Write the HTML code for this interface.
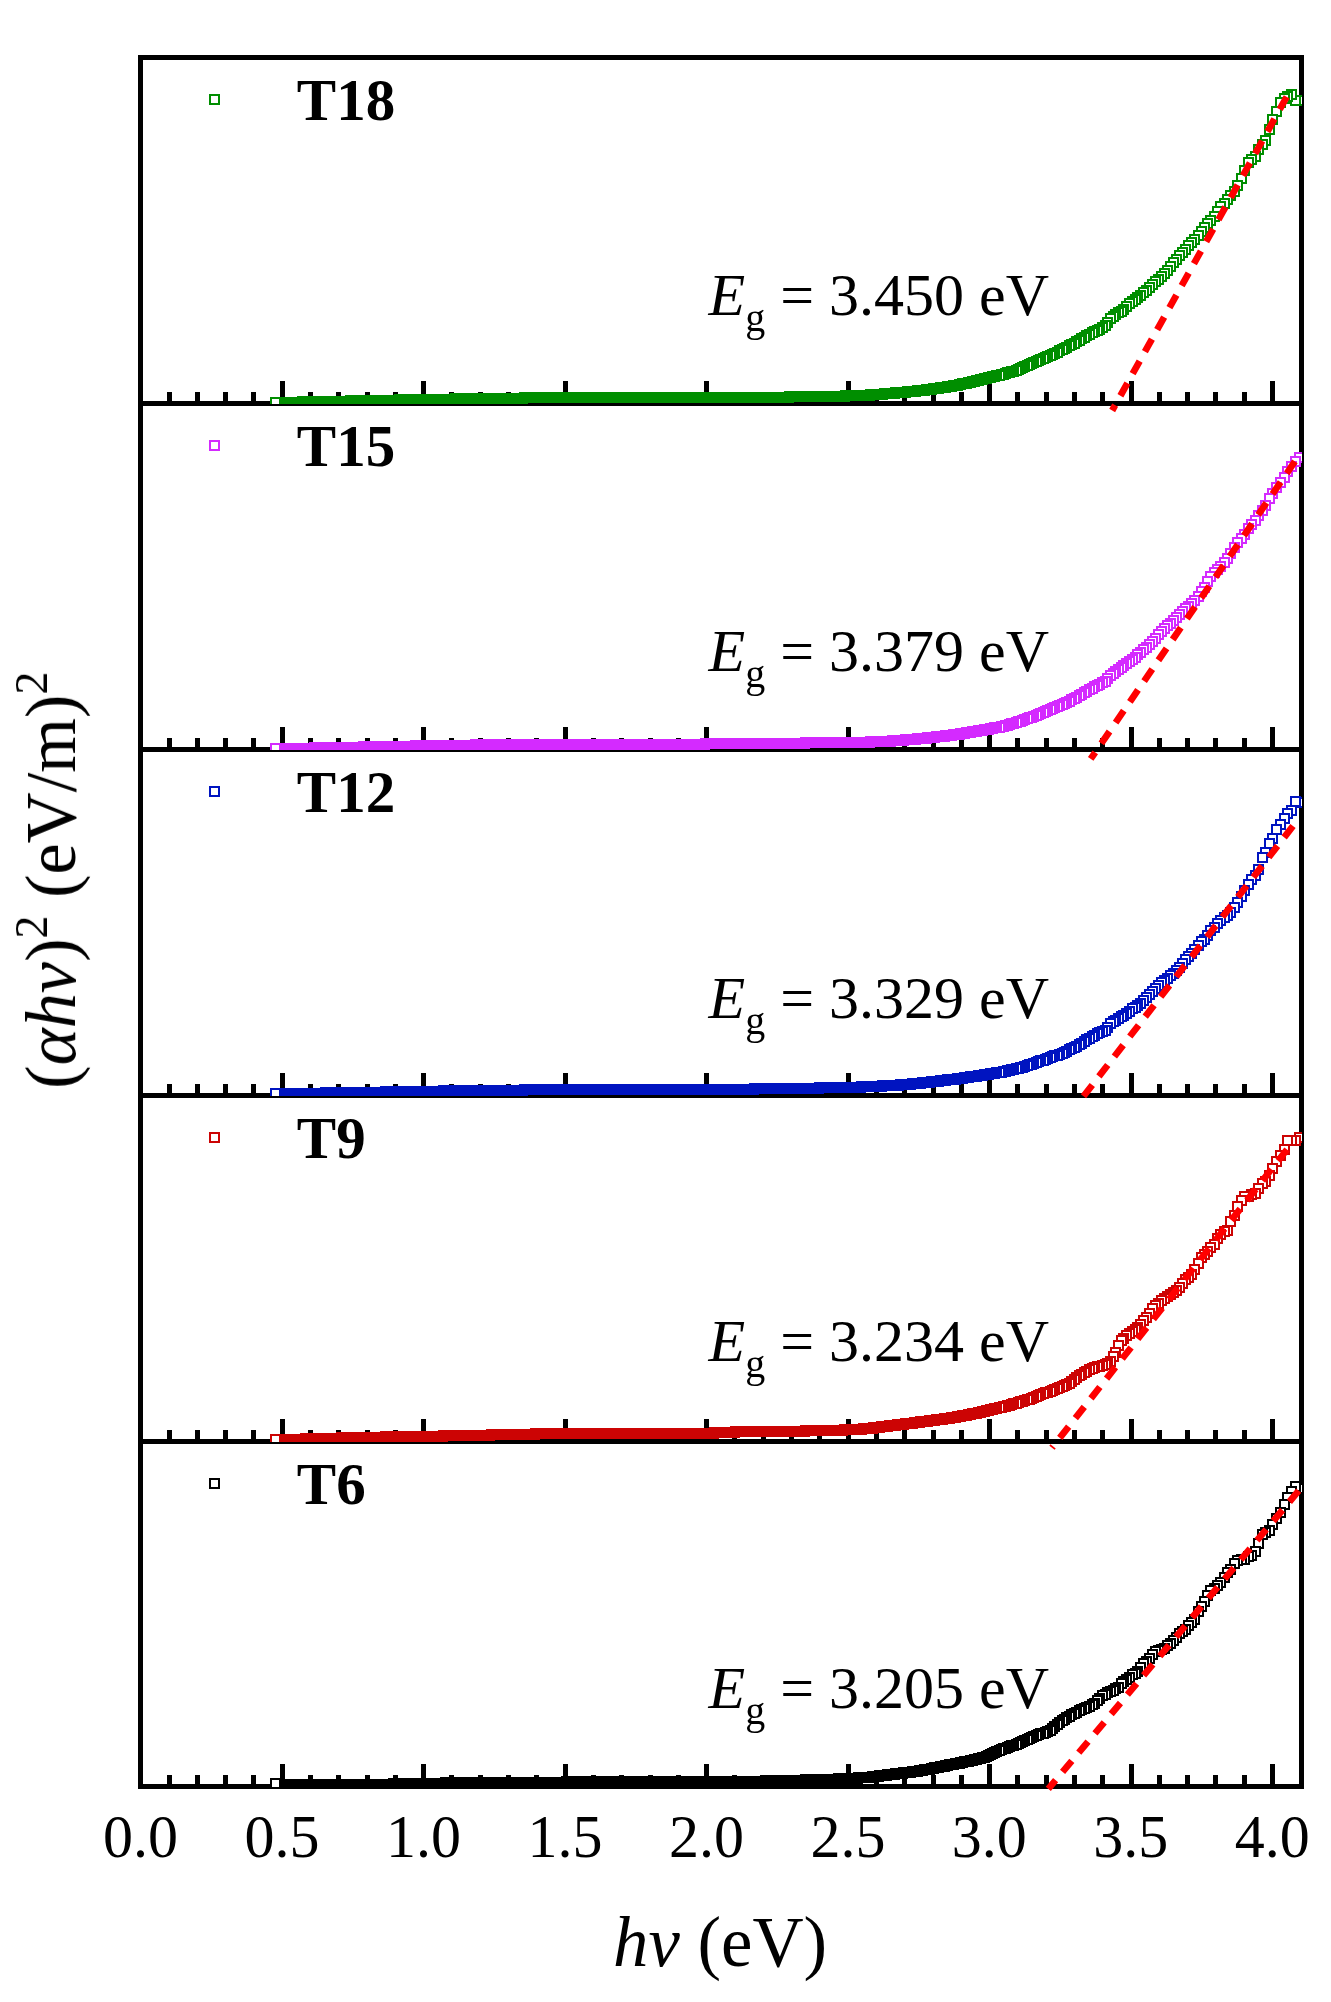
<!DOCTYPE html>
<html><head><meta charset="utf-8"><style>html,body{margin:0;padding:0;background:#fff;width:1331px;height:2002px;overflow:hidden}svg{display:block}text{font-family:"Liberation Serif",serif}</style></head><body>
<svg width="1331" height="2002" viewBox="0 0 1331 2002">
<style>rect.m,.g0 rect,.g1 rect,.g2 rect,.g3 rect,.g4 rect{fill:#fff;stroke-width:2px;width:9px;height:9px}.g0 rect{stroke:#008e00}.g1 rect{stroke:#d42aff}.g2 rect{stroke:#0014c0}.g3 rect{stroke:#cc0404}.g4 rect{stroke:#000000}</style>
<rect x="0" y="0" width="1331" height="2002" fill="#fff" style="stroke:none;width:1331px;height:2002px"/>
<path fill="#000" d="M138 55h1166v5h-1166zM138 55h5v1734h-5zM1299 55h5v1734h-5zM138 401h1166v5h-1166zM138 747h1166v5h-1166zM138 1093h1166v5h-1166zM138 1439h1166v5h-1166zM138 1784h1166v5h-1166zM167 392h5v9h-5zM195 392h5v9h-5zM223 392h5v9h-5zM251 392h5v9h-5zM280 381h5v20h-5zM308 392h5v9h-5zM336 392h5v9h-5zM365 392h5v9h-5zM393 392h5v9h-5zM421 381h5v20h-5zM449 392h5v9h-5zM478 392h5v9h-5zM506 392h5v9h-5zM534 392h5v9h-5zM563 381h5v20h-5zM591 392h5v9h-5zM619 392h5v9h-5zM648 392h5v9h-5zM676 392h5v9h-5zM704 381h5v20h-5zM732 392h5v9h-5zM761 392h5v9h-5zM789 392h5v9h-5zM817 392h5v9h-5zM846 381h5v20h-5zM874 392h5v9h-5zM902 392h5v9h-5zM931 392h5v9h-5zM959 392h5v9h-5zM987 381h5v20h-5zM1015 392h5v9h-5zM1044 392h5v9h-5zM1072 392h5v9h-5zM1100 392h5v9h-5zM1129 381h5v20h-5zM1157 392h5v9h-5zM1185 392h5v9h-5zM1213 392h5v9h-5zM1242 392h5v9h-5zM1270 381h5v20h-5zM167 738h5v9h-5zM195 738h5v9h-5zM223 738h5v9h-5zM251 738h5v9h-5zM280 727h5v20h-5zM308 738h5v9h-5zM336 738h5v9h-5zM365 738h5v9h-5zM393 738h5v9h-5zM421 727h5v20h-5zM449 738h5v9h-5zM478 738h5v9h-5zM506 738h5v9h-5zM534 738h5v9h-5zM563 727h5v20h-5zM591 738h5v9h-5zM619 738h5v9h-5zM648 738h5v9h-5zM676 738h5v9h-5zM704 727h5v20h-5zM732 738h5v9h-5zM761 738h5v9h-5zM789 738h5v9h-5zM817 738h5v9h-5zM846 727h5v20h-5zM874 738h5v9h-5zM902 738h5v9h-5zM931 738h5v9h-5zM959 738h5v9h-5zM987 727h5v20h-5zM1015 738h5v9h-5zM1044 738h5v9h-5zM1072 738h5v9h-5zM1100 738h5v9h-5zM1129 727h5v20h-5zM1157 738h5v9h-5zM1185 738h5v9h-5zM1213 738h5v9h-5zM1242 738h5v9h-5zM1270 727h5v20h-5zM167 1084h5v9h-5zM195 1084h5v9h-5zM223 1084h5v9h-5zM251 1084h5v9h-5zM280 1073h5v20h-5zM308 1084h5v9h-5zM336 1084h5v9h-5zM365 1084h5v9h-5zM393 1084h5v9h-5zM421 1073h5v20h-5zM449 1084h5v9h-5zM478 1084h5v9h-5zM506 1084h5v9h-5zM534 1084h5v9h-5zM563 1073h5v20h-5zM591 1084h5v9h-5zM619 1084h5v9h-5zM648 1084h5v9h-5zM676 1084h5v9h-5zM704 1073h5v20h-5zM732 1084h5v9h-5zM761 1084h5v9h-5zM789 1084h5v9h-5zM817 1084h5v9h-5zM846 1073h5v20h-5zM874 1084h5v9h-5zM902 1084h5v9h-5zM931 1084h5v9h-5zM959 1084h5v9h-5zM987 1073h5v20h-5zM1015 1084h5v9h-5zM1044 1084h5v9h-5zM1072 1084h5v9h-5zM1100 1084h5v9h-5zM1129 1073h5v20h-5zM1157 1084h5v9h-5zM1185 1084h5v9h-5zM1213 1084h5v9h-5zM1242 1084h5v9h-5zM1270 1073h5v20h-5zM167 1430h5v9h-5zM195 1430h5v9h-5zM223 1430h5v9h-5zM251 1430h5v9h-5zM280 1419h5v20h-5zM308 1430h5v9h-5zM336 1430h5v9h-5zM365 1430h5v9h-5zM393 1430h5v9h-5zM421 1419h5v20h-5zM449 1430h5v9h-5zM478 1430h5v9h-5zM506 1430h5v9h-5zM534 1430h5v9h-5zM563 1419h5v20h-5zM591 1430h5v9h-5zM619 1430h5v9h-5zM648 1430h5v9h-5zM676 1430h5v9h-5zM704 1419h5v20h-5zM732 1430h5v9h-5zM761 1430h5v9h-5zM789 1430h5v9h-5zM817 1430h5v9h-5zM846 1419h5v20h-5zM874 1430h5v9h-5zM902 1430h5v9h-5zM931 1430h5v9h-5zM959 1430h5v9h-5zM987 1419h5v20h-5zM1015 1430h5v9h-5zM1044 1430h5v9h-5zM1072 1430h5v9h-5zM1100 1430h5v9h-5zM1129 1419h5v20h-5zM1157 1430h5v9h-5zM1185 1430h5v9h-5zM1213 1430h5v9h-5zM1242 1430h5v9h-5zM1270 1419h5v20h-5zM167 1775h5v9h-5zM195 1775h5v9h-5zM223 1775h5v9h-5zM251 1775h5v9h-5zM280 1764h5v20h-5zM308 1775h5v9h-5zM336 1775h5v9h-5zM365 1775h5v9h-5zM393 1775h5v9h-5zM421 1764h5v20h-5zM449 1775h5v9h-5zM478 1775h5v9h-5zM506 1775h5v9h-5zM534 1775h5v9h-5zM563 1764h5v20h-5zM591 1775h5v9h-5zM619 1775h5v9h-5zM648 1775h5v9h-5zM676 1775h5v9h-5zM704 1764h5v20h-5zM732 1775h5v9h-5zM761 1775h5v9h-5zM789 1775h5v9h-5zM817 1775h5v9h-5zM846 1764h5v20h-5zM874 1775h5v9h-5zM902 1775h5v9h-5zM931 1775h5v9h-5zM959 1775h5v9h-5zM987 1764h5v20h-5zM1015 1775h5v9h-5zM1044 1775h5v9h-5zM1072 1775h5v9h-5zM1100 1775h5v9h-5zM1129 1764h5v20h-5zM1157 1775h5v9h-5zM1185 1775h5v9h-5zM1213 1775h5v9h-5zM1242 1775h5v9h-5zM1270 1764h5v20h-5z"/>
<clipPath id="c0"><path d="M141 57.5H1302V404H141z"/></clipPath>
<g clip-path="url(#c0)" class="g0">
<rect x="1295" y="96" width="9" height="9"/><rect x="1291" y="96" width="9" height="9"/><rect x="1287" y="90" width="9" height="9"/><rect x="1283" y="92" width="9" height="9"/><rect x="1280" y="94" width="9" height="9"/><rect x="1276" y="98" width="9" height="9"/><rect x="1272" y="107" width="9" height="9"/><rect x="1268" y="115" width="9" height="9"/><rect x="1265" y="125" width="9" height="9"/><rect x="1261" y="136" width="9" height="9"/><rect x="1258" y="140" width="9" height="9"/><rect x="1254" y="145" width="9" height="9"/><rect x="1251" y="152" width="9" height="9"/><rect x="1247" y="155" width="9" height="9"/><rect x="1244" y="158" width="9" height="9"/><rect x="1240" y="166" width="9" height="9"/><rect x="1237" y="174" width="9" height="9"/><rect x="1233" y="181" width="9" height="9"/><rect x="1230" y="187" width="9" height="9"/><rect x="1226" y="191" width="9" height="9"/><rect x="1223" y="195" width="9" height="9"/><rect x="1220" y="199" width="9" height="9"/><rect x="1216" y="202" width="9" height="9"/><rect x="1213" y="207" width="9" height="9"/><rect x="1210" y="212" width="9" height="9"/><rect x="1206" y="216" width="9" height="9"/><rect x="1203" y="219" width="9" height="9"/><rect x="1200" y="223" width="9" height="9"/><rect x="1197" y="227" width="9" height="9"/><rect x="1194" y="231" width="9" height="9"/><rect x="1190" y="235" width="9" height="9"/><rect x="1187" y="238" width="9" height="9"/><rect x="1184" y="241" width="9" height="9"/><rect x="1181" y="245" width="9" height="9"/><rect x="1178" y="248" width="9" height="9"/><rect x="1175" y="251" width="9" height="9"/><rect x="1172" y="255" width="9" height="9"/><rect x="1169" y="258" width="9" height="9"/><rect x="1166" y="262" width="9" height="9"/><rect x="1163" y="266" width="9" height="9"/><rect x="1160" y="269" width="9" height="9"/><rect x="1157" y="272" width="9" height="9"/><rect x="1154" y="275" width="9" height="9"/><rect x="1151" y="277" width="9" height="9"/><rect x="1148" y="280" width="9" height="9"/><rect x="1145" y="283" width="9" height="9"/><rect x="1142" y="286" width="9" height="9"/><rect x="1139" y="288" width="9" height="9"/><rect x="1136" y="291" width="9" height="9"/><rect x="1133" y="293" width="9" height="9"/><rect x="1131" y="295" width="9" height="9"/><rect x="1128" y="297" width="9" height="9"/><rect x="1125" y="299" width="9" height="9"/><rect x="1122" y="302" width="9" height="9"/><rect x="1119" y="305" width="9" height="9"/><rect x="1117" y="307" width="9" height="9"/><rect x="1114" y="308" width="9" height="9"/><rect x="1111" y="310" width="9" height="9"/><rect x="1109" y="312" width="9" height="9"/><rect x="1106" y="314" width="9" height="9"/><rect x="1103" y="318" width="9" height="9"/><rect x="1101" y="321" width="9" height="9"/><rect x="1098" y="323" width="9" height="9"/><rect x="1095" y="325" width="9" height="9"/><rect x="1093" y="326" width="9" height="9"/><rect x="1090" y="327" width="9" height="9"/><rect x="1088" y="328" width="9" height="9"/><rect x="1085" y="330" width="9" height="9"/><rect x="1082" y="331" width="9" height="9"/><rect x="1080" y="333" width="9" height="9"/><rect x="1077" y="334" width="9" height="9"/><rect x="1075" y="336" width="9" height="9"/><rect x="1072" y="337" width="9" height="9"/><rect x="1070" y="339" width="9" height="9"/><rect x="1067" y="340" width="9" height="9"/><rect x="1065" y="341" width="9" height="9"/><rect x="1062" y="343" width="9" height="9"/><rect x="1060" y="344" width="9" height="9"/><rect x="1058" y="345" width="9" height="9"/><rect x="1055" y="346" width="9" height="9"/><rect x="1053" y="348" width="9" height="9"/><rect x="1050" y="349" width="9" height="9"/><rect x="1048" y="350" width="9" height="9"/><rect x="1046" y="351" width="9" height="9"/><rect x="1043" y="352" width="9" height="9"/><rect x="1041" y="353" width="9" height="9"/><rect x="1039" y="354" width="9" height="9"/><rect x="1036" y="355" width="9" height="9"/><rect x="1034" y="356" width="9" height="9"/><rect x="1032" y="357" width="9" height="9"/><rect x="1029" y="358" width="9" height="9"/><rect x="1027" y="359" width="9" height="9"/><rect x="1025" y="360" width="9" height="9"/><rect x="1023" y="361" width="9" height="9"/><rect x="1020" y="362" width="9" height="9"/><rect x="1018" y="363" width="9" height="9"/><rect x="1016" y="364" width="9" height="9"/><rect x="1014" y="365" width="9" height="9"/><rect x="1012" y="366" width="9" height="9"/><rect x="1009" y="367" width="9" height="9"/><rect x="1007" y="367" width="9" height="9"/><rect x="1005" y="368" width="9" height="9"/><rect x="1003" y="368" width="9" height="9"/><rect x="1001" y="369" width="9" height="9"/><rect x="999" y="370" width="9" height="9"/><rect x="997" y="370" width="9" height="9"/><rect x="995" y="371" width="9" height="9"/><rect x="992" y="371" width="9" height="9"/><rect x="990" y="372" width="9" height="9"/><rect x="988" y="372" width="9" height="9"/><rect x="986" y="373" width="9" height="9"/><rect x="984" y="373" width="9" height="9"/><rect x="982" y="374" width="9" height="9"/><rect x="980" y="374" width="9" height="9"/><rect x="978" y="375" width="9" height="9"/><rect x="976" y="375" width="9" height="9"/><rect x="974" y="376" width="9" height="9"/><rect x="972" y="376" width="9" height="9"/><rect x="970" y="377" width="9" height="9"/><rect x="968" y="377" width="9" height="9"/><rect x="966" y="378" width="9" height="9"/><rect x="964" y="378" width="9" height="9"/><rect x="962" y="379" width="9" height="9"/><rect x="960" y="379" width="9" height="9"/><rect x="958" y="379" width="9" height="9"/><rect x="956" y="380" width="9" height="9"/><rect x="955" y="380" width="9" height="9"/><rect x="953" y="381" width="9" height="9"/><rect x="951" y="381" width="9" height="9"/><rect x="949" y="381" width="9" height="9"/><rect x="947" y="382" width="9" height="9"/><rect x="945" y="382" width="9" height="9"/><rect x="943" y="382" width="9" height="9"/><rect x="941" y="383" width="9" height="9"/><rect x="940" y="383" width="9" height="9"/><rect x="938" y="383" width="9" height="9"/><rect x="936" y="383" width="9" height="9"/><rect x="934" y="384" width="9" height="9"/><rect x="932" y="384" width="9" height="9"/><rect x="930" y="384" width="9" height="9"/><rect x="929" y="384" width="9" height="9"/><rect x="927" y="385" width="9" height="9"/><rect x="925" y="385" width="9" height="9"/><rect x="923" y="385" width="9" height="9"/><rect x="922" y="385" width="9" height="9"/><rect x="920" y="386" width="9" height="9"/><rect x="918" y="386" width="9" height="9"/><rect x="916" y="386" width="9" height="9"/><rect x="915" y="386" width="9" height="9"/><rect x="913" y="386" width="9" height="9"/><rect x="911" y="387" width="9" height="9"/><rect x="910" y="387" width="9" height="9"/><rect x="908" y="387" width="9" height="9"/><rect x="906" y="387" width="9" height="9"/><rect x="904" y="387" width="9" height="9"/><rect x="903" y="387" width="9" height="9"/><rect x="901" y="388" width="9" height="9"/><rect x="899" y="388" width="9" height="9"/><rect x="898" y="388" width="9" height="9"/><rect x="896" y="388" width="9" height="9"/><rect x="894" y="388" width="9" height="9"/><rect x="893" y="388" width="9" height="9"/><rect x="891" y="388" width="9" height="9"/><rect x="890" y="389" width="9" height="9"/><rect x="888" y="389" width="9" height="9"/><rect x="886" y="389" width="9" height="9"/><rect x="885" y="389" width="9" height="9"/><rect x="883" y="389" width="9" height="9"/><rect x="882" y="389" width="9" height="9"/><rect x="880" y="389" width="9" height="9"/><rect x="878" y="390" width="9" height="9"/><rect x="877" y="390" width="9" height="9"/><rect x="875" y="390" width="9" height="9"/><rect x="874" y="390" width="9" height="9"/><rect x="872" y="390" width="9" height="9"/><rect x="871" y="390" width="9" height="9"/><rect x="869" y="390" width="9" height="9"/><rect x="868" y="390" width="9" height="9"/><rect x="866" y="390" width="9" height="9"/><rect x="865" y="391" width="9" height="9"/><rect x="863" y="391" width="9" height="9"/><rect x="862" y="391" width="9" height="9"/><rect x="860" y="391" width="9" height="9"/><rect x="859" y="391" width="9" height="9"/><rect x="857" y="391" width="9" height="9"/><rect x="856" y="391" width="9" height="9"/><rect x="854" y="391" width="9" height="9"/><rect x="853" y="391" width="9" height="9"/><rect x="851" y="391" width="9" height="9"/><rect x="850" y="391" width="9" height="9"/><rect x="848" y="391" width="9" height="9"/><rect x="847" y="391" width="9" height="9"/><rect x="846" y="391" width="9" height="9"/>
<path fill="#fff" stroke="#008e00" stroke-width="2" d="M271 398h9v9h-9zM272 398h9v9h-9zM272 398h9v9h-9zM273 398h9v9h-9zM274 398h9v9h-9zM275 398h9v9h-9zM276 398h9v9h-9zM277 398h9v9h-9zM278 398h9v9h-9zM279 398h9v9h-9zM280 398h9v9h-9zM281 398h9v9h-9zM282 398h9v9h-9zM283 398h9v9h-9zM284 398h9v9h-9zM285 398h9v9h-9zM285 398h9v9h-9zM286 398h9v9h-9zM287 398h9v9h-9zM288 398h9v9h-9zM289 398h9v9h-9zM290 398h9v9h-9zM291 398h9v9h-9zM292 398h9v9h-9zM293 398h9v9h-9zM294 398h9v9h-9zM295 398h9v9h-9zM296 398h9v9h-9zM297 398h9v9h-9zM298 397h9v9h-9zM299 397h9v9h-9zM300 397h9v9h-9zM300 397h9v9h-9zM301 397h9v9h-9zM302 397h9v9h-9zM303 397h9v9h-9zM304 397h9v9h-9zM305 397h9v9h-9zM306 397h9v9h-9zM307 397h9v9h-9zM308 397h9v9h-9zM309 397h9v9h-9zM310 397h9v9h-9zM311 397h9v9h-9zM312 397h9v9h-9zM313 397h9v9h-9zM314 397h9v9h-9zM315 397h9v9h-9zM316 397h9v9h-9zM316 397h9v9h-9zM317 397h9v9h-9zM318 397h9v9h-9zM319 397h9v9h-9zM320 397h9v9h-9zM321 397h9v9h-9zM322 397h9v9h-9zM323 397h9v9h-9zM324 397h9v9h-9zM325 397h9v9h-9zM326 397h9v9h-9zM327 397h9v9h-9zM328 397h9v9h-9zM329 397h9v9h-9zM330 397h9v9h-9zM331 397h9v9h-9zM332 397h9v9h-9zM333 397h9v9h-9zM334 397h9v9h-9zM335 397h9v9h-9zM336 397h9v9h-9zM337 397h9v9h-9zM337 397h9v9h-9zM338 397h9v9h-9zM339 397h9v9h-9zM340 397h9v9h-9zM341 397h9v9h-9zM342 397h9v9h-9zM343 397h9v9h-9zM344 397h9v9h-9zM345 397h9v9h-9zM346 396h9v9h-9zM347 396h9v9h-9zM348 396h9v9h-9zM349 396h9v9h-9zM350 396h9v9h-9zM351 396h9v9h-9zM352 396h9v9h-9zM353 396h9v9h-9zM354 396h9v9h-9zM355 396h9v9h-9zM356 396h9v9h-9zM357 396h9v9h-9zM358 396h9v9h-9zM358 396h9v9h-9zM359 396h9v9h-9zM360 396h9v9h-9zM361 396h9v9h-9zM362 396h9v9h-9zM363 396h9v9h-9zM365 396h9v9h-9zM366 396h9v9h-9zM367 396h9v9h-9zM368 396h9v9h-9zM368 396h9v9h-9zM369 396h9v9h-9zM370 396h9v9h-9zM371 396h9v9h-9zM372 396h9v9h-9zM373 396h9v9h-9zM374 396h9v9h-9zM375 396h9v9h-9zM376 396h9v9h-9zM377 396h9v9h-9zM378 396h9v9h-9zM379 396h9v9h-9zM380 396h9v9h-9zM381 396h9v9h-9zM382 396h9v9h-9zM383 396h9v9h-9zM384 396h9v9h-9zM385 396h9v9h-9zM386 396h9v9h-9zM387 396h9v9h-9zM388 396h9v9h-9zM389 396h9v9h-9zM390 396h9v9h-9zM391 396h9v9h-9zM392 396h9v9h-9zM393 396h9v9h-9zM394 396h9v9h-9zM395 395h9v9h-9zM396 395h9v9h-9zM397 395h9v9h-9zM398 395h9v9h-9zM399 395h9v9h-9zM400 395h9v9h-9zM401 395h9v9h-9zM402 395h9v9h-9zM403 395h9v9h-9zM404 395h9v9h-9zM405 395h9v9h-9zM406 395h9v9h-9zM407 395h9v9h-9zM408 395h9v9h-9zM409 395h9v9h-9zM410 395h9v9h-9zM411 395h9v9h-9zM412 395h9v9h-9zM413 395h9v9h-9zM414 395h9v9h-9zM415 395h9v9h-9zM416 395h9v9h-9zM418 395h9v9h-9zM419 395h9v9h-9zM419 395h9v9h-9zM420 395h9v9h-9zM421 395h9v9h-9zM422 395h9v9h-9zM423 395h9v9h-9zM424 395h9v9h-9zM425 395h9v9h-9zM426 395h9v9h-9zM427 395h9v9h-9zM428 395h9v9h-9zM429 395h9v9h-9zM430 395h9v9h-9zM431 395h9v9h-9zM432 395h9v9h-9zM433 395h9v9h-9zM434 395h9v9h-9zM435 395h9v9h-9zM436 395h9v9h-9zM437 395h9v9h-9zM438 395h9v9h-9zM439 395h9v9h-9zM440 395h9v9h-9zM441 395h9v9h-9zM442 395h9v9h-9zM443 395h9v9h-9zM444 395h9v9h-9zM445 395h9v9h-9zM446 395h9v9h-9zM447 395h9v9h-9zM449 395h9v9h-9zM450 395h9v9h-9zM451 394h9v9h-9zM452 394h9v9h-9zM453 394h9v9h-9zM454 394h9v9h-9zM455 394h9v9h-9zM457 394h9v9h-9zM458 394h9v9h-9zM459 394h9v9h-9zM460 394h9v9h-9zM461 394h9v9h-9zM462 394h9v9h-9zM463 394h9v9h-9zM464 394h9v9h-9zM465 394h9v9h-9zM466 394h9v9h-9zM467 394h9v9h-9zM468 394h9v9h-9zM469 394h9v9h-9zM470 394h9v9h-9zM471 394h9v9h-9zM471 394h9v9h-9zM472 394h9v9h-9zM473 394h9v9h-9zM474 394h9v9h-9zM475 394h9v9h-9zM476 394h9v9h-9zM477 394h9v9h-9zM478 394h9v9h-9zM479 394h9v9h-9zM480 394h9v9h-9zM481 394h9v9h-9zM482 394h9v9h-9zM483 394h9v9h-9zM484 394h9v9h-9zM485 394h9v9h-9zM487 394h9v9h-9zM488 394h9v9h-9zM489 394h9v9h-9zM490 394h9v9h-9zM491 394h9v9h-9zM492 394h9v9h-9zM493 394h9v9h-9zM494 394h9v9h-9zM495 394h9v9h-9zM496 394h9v9h-9zM497 394h9v9h-9zM498 394h9v9h-9zM500 394h9v9h-9zM501 394h9v9h-9zM502 394h9v9h-9zM503 394h9v9h-9zM504 394h9v9h-9zM505 394h9v9h-9zM506 394h9v9h-9zM508 394h9v9h-9zM509 394h9v9h-9zM510 394h9v9h-9zM511 394h9v9h-9zM512 394h9v9h-9zM514 394h9v9h-9zM515 394h9v9h-9zM516 394h9v9h-9zM517 394h9v9h-9zM518 394h9v9h-9zM520 393h9v9h-9zM521 393h9v9h-9zM522 393h9v9h-9zM524 393h9v9h-9zM525 393h9v9h-9zM526 393h9v9h-9zM527 393h9v9h-9zM529 393h9v9h-9zM530 393h9v9h-9zM531 393h9v9h-9zM533 393h9v9h-9zM534 393h9v9h-9zM535 393h9v9h-9zM536 393h9v9h-9zM537 393h9v9h-9zM538 393h9v9h-9zM539 393h9v9h-9zM540 393h9v9h-9zM540 393h9v9h-9zM541 393h9v9h-9zM542 393h9v9h-9zM543 393h9v9h-9zM544 393h9v9h-9zM545 393h9v9h-9zM546 393h9v9h-9zM547 393h9v9h-9zM548 393h9v9h-9zM549 393h9v9h-9zM550 393h9v9h-9zM551 393h9v9h-9zM552 393h9v9h-9zM553 393h9v9h-9zM554 393h9v9h-9zM555 393h9v9h-9zM556 393h9v9h-9zM557 393h9v9h-9zM558 393h9v9h-9zM559 393h9v9h-9zM560 393h9v9h-9zM561 393h9v9h-9zM562 393h9v9h-9zM563 393h9v9h-9zM564 393h9v9h-9zM565 393h9v9h-9zM566 393h9v9h-9zM567 393h9v9h-9zM568 393h9v9h-9zM569 393h9v9h-9zM570 393h9v9h-9zM571 393h9v9h-9zM573 393h9v9h-9zM574 393h9v9h-9zM575 393h9v9h-9zM576 393h9v9h-9zM577 393h9v9h-9zM578 393h9v9h-9zM579 393h9v9h-9zM580 393h9v9h-9zM581 393h9v9h-9zM583 393h9v9h-9zM584 393h9v9h-9zM585 393h9v9h-9zM586 393h9v9h-9zM587 393h9v9h-9zM588 393h9v9h-9zM589 393h9v9h-9zM591 393h9v9h-9zM592 393h9v9h-9zM593 393h9v9h-9zM594 393h9v9h-9zM595 393h9v9h-9zM597 393h9v9h-9zM598 393h9v9h-9zM599 393h9v9h-9zM600 393h9v9h-9zM601 393h9v9h-9zM603 393h9v9h-9zM604 393h9v9h-9zM605 393h9v9h-9zM606 393h9v9h-9zM608 393h9v9h-9zM609 393h9v9h-9zM610 393h9v9h-9zM611 393h9v9h-9zM613 393h9v9h-9zM614 393h9v9h-9zM615 393h9v9h-9zM617 393h9v9h-9zM618 393h9v9h-9zM619 393h9v9h-9zM621 393h9v9h-9zM622 393h9v9h-9zM623 393h9v9h-9zM625 393h9v9h-9zM626 393h9v9h-9zM627 393h9v9h-9zM629 393h9v9h-9zM630 393h9v9h-9zM632 393h9v9h-9zM633 393h9v9h-9zM634 393h9v9h-9zM636 393h9v9h-9zM637 393h9v9h-9zM639 393h9v9h-9zM640 393h9v9h-9zM642 393h9v9h-9zM643 393h9v9h-9zM644 393h9v9h-9zM646 393h9v9h-9zM647 393h9v9h-9zM649 393h9v9h-9zM650 393h9v9h-9zM652 393h9v9h-9zM653 393h9v9h-9zM655 393h9v9h-9zM656 393h9v9h-9zM658 393h9v9h-9zM660 393h9v9h-9zM661 393h9v9h-9zM663 393h9v9h-9zM664 393h9v9h-9zM666 393h9v9h-9zM667 393h9v9h-9zM669 393h9v9h-9zM671 393h9v9h-9zM672 393h9v9h-9zM674 393h9v9h-9zM676 393h9v9h-9zM677 393h9v9h-9zM679 393h9v9h-9zM681 393h9v9h-9zM682 393h9v9h-9zM684 393h9v9h-9zM686 393h9v9h-9zM687 393h9v9h-9zM689 393h9v9h-9zM691 393h9v9h-9zM693 393h9v9h-9zM695 393h9v9h-9zM696 393h9v9h-9zM698 393h9v9h-9zM700 393h9v9h-9zM701 393h9v9h-9zM702 393h9v9h-9zM703 393h9v9h-9zM704 393h9v9h-9zM704 393h9v9h-9zM705 393h9v9h-9zM706 393h9v9h-9zM707 393h9v9h-9zM708 393h9v9h-9zM709 393h9v9h-9zM710 393h9v9h-9zM711 393h9v9h-9zM712 393h9v9h-9zM713 393h9v9h-9zM714 393h9v9h-9zM715 393h9v9h-9zM716 393h9v9h-9zM717 393h9v9h-9zM718 393h9v9h-9zM719 393h9v9h-9zM720 393h9v9h-9zM720 393h9v9h-9zM721 393h9v9h-9zM722 393h9v9h-9zM723 393h9v9h-9zM724 393h9v9h-9zM725 393h9v9h-9zM726 393h9v9h-9zM727 393h9v9h-9zM728 393h9v9h-9zM729 393h9v9h-9zM730 393h9v9h-9zM731 393h9v9h-9zM732 393h9v9h-9zM733 393h9v9h-9zM734 393h9v9h-9zM735 393h9v9h-9zM736 393h9v9h-9zM737 393h9v9h-9zM739 393h9v9h-9zM740 393h9v9h-9zM741 393h9v9h-9zM742 393h9v9h-9zM743 393h9v9h-9zM744 393h9v9h-9zM745 393h9v9h-9zM746 393h9v9h-9zM747 393h9v9h-9zM748 393h9v9h-9zM749 393h9v9h-9zM750 393h9v9h-9zM751 393h9v9h-9zM752 393h9v9h-9zM753 393h9v9h-9zM754 393h9v9h-9zM755 393h9v9h-9zM757 393h9v9h-9zM758 393h9v9h-9zM759 393h9v9h-9zM760 393h9v9h-9zM761 393h9v9h-9zM762 393h9v9h-9zM763 393h9v9h-9zM764 393h9v9h-9zM765 393h9v9h-9zM767 393h9v9h-9zM768 393h9v9h-9zM769 393h9v9h-9zM770 393h9v9h-9zM771 393h9v9h-9zM772 393h9v9h-9zM773 393h9v9h-9zM775 393h9v9h-9zM776 393h9v9h-9zM777 393h9v9h-9zM778 393h9v9h-9zM779 393h9v9h-9zM780 393h9v9h-9zM782 393h9v9h-9zM783 393h9v9h-9zM784 393h9v9h-9zM785 392h9v9h-9zM786 392h9v9h-9zM788 392h9v9h-9zM789 392h9v9h-9zM790 392h9v9h-9zM791 392h9v9h-9zM793 392h9v9h-9zM794 392h9v9h-9zM795 392h9v9h-9zM796 392h9v9h-9zM797 392h9v9h-9zM799 392h9v9h-9zM800 392h9v9h-9zM801 392h9v9h-9zM802 392h9v9h-9zM804 392h9v9h-9zM805 392h9v9h-9zM806 392h9v9h-9zM808 392h9v9h-9zM809 392h9v9h-9zM810 392h9v9h-9zM811 392h9v9h-9zM813 392h9v9h-9zM814 392h9v9h-9zM815 392h9v9h-9zM817 392h9v9h-9zM818 392h9v9h-9zM819 392h9v9h-9zM821 392h9v9h-9zM822 392h9v9h-9zM823 392h9v9h-9zM825 392h9v9h-9zM826 392h9v9h-9zM827 392h9v9h-9zM829 392h9v9h-9zM830 392h9v9h-9zM831 392h9v9h-9zM833 392h9v9h-9zM834 392h9v9h-9zM836 392h9v9h-9zM837 392h9v9h-9zM838 392h9v9h-9zM840 392h9v9h-9zM841 391h9v9h-9zM843 391h9v9h-9zM844 391h9v9h-9z"/>
<rect x="271" y="398" width="9" height="9"/>
</g>
<clipPath id="c1"><path d="M141 403.5H1302V750H141z"/></clipPath>
<g clip-path="url(#c1)" class="g1">
<rect x="1295" y="453" width="9" height="9"/><rect x="1291" y="457" width="9" height="9"/><rect x="1287" y="462" width="9" height="9"/><rect x="1283" y="467" width="9" height="9"/><rect x="1280" y="473" width="9" height="9"/><rect x="1276" y="478" width="9" height="9"/><rect x="1272" y="483" width="9" height="9"/><rect x="1268" y="489" width="9" height="9"/><rect x="1265" y="494" width="9" height="9"/><rect x="1261" y="501" width="9" height="9"/><rect x="1258" y="506" width="9" height="9"/><rect x="1254" y="511" width="9" height="9"/><rect x="1251" y="516" width="9" height="9"/><rect x="1247" y="520" width="9" height="9"/><rect x="1244" y="524" width="9" height="9"/><rect x="1240" y="530" width="9" height="9"/><rect x="1237" y="534" width="9" height="9"/><rect x="1233" y="538" width="9" height="9"/><rect x="1230" y="543" width="9" height="9"/><rect x="1226" y="549" width="9" height="9"/><rect x="1223" y="554" width="9" height="9"/><rect x="1220" y="558" width="9" height="9"/><rect x="1216" y="562" width="9" height="9"/><rect x="1213" y="565" width="9" height="9"/><rect x="1210" y="568" width="9" height="9"/><rect x="1206" y="572" width="9" height="9"/><rect x="1203" y="577" width="9" height="9"/><rect x="1200" y="583" width="9" height="9"/><rect x="1197" y="587" width="9" height="9"/><rect x="1194" y="592" width="9" height="9"/><rect x="1190" y="596" width="9" height="9"/><rect x="1187" y="599" width="9" height="9"/><rect x="1184" y="602" width="9" height="9"/><rect x="1181" y="604" width="9" height="9"/><rect x="1178" y="607" width="9" height="9"/><rect x="1175" y="610" width="9" height="9"/><rect x="1172" y="613" width="9" height="9"/><rect x="1169" y="616" width="9" height="9"/><rect x="1166" y="619" width="9" height="9"/><rect x="1163" y="621" width="9" height="9"/><rect x="1160" y="624" width="9" height="9"/><rect x="1157" y="627" width="9" height="9"/><rect x="1154" y="630" width="9" height="9"/><rect x="1151" y="634" width="9" height="9"/><rect x="1148" y="637" width="9" height="9"/><rect x="1145" y="640" width="9" height="9"/><rect x="1142" y="643" width="9" height="9"/><rect x="1139" y="645" width="9" height="9"/><rect x="1136" y="648" width="9" height="9"/><rect x="1133" y="650" width="9" height="9"/><rect x="1131" y="653" width="9" height="9"/><rect x="1128" y="655" width="9" height="9"/><rect x="1125" y="657" width="9" height="9"/><rect x="1122" y="659" width="9" height="9"/><rect x="1119" y="661" width="9" height="9"/><rect x="1117" y="663" width="9" height="9"/><rect x="1114" y="665" width="9" height="9"/><rect x="1111" y="667" width="9" height="9"/><rect x="1109" y="669" width="9" height="9"/><rect x="1106" y="671" width="9" height="9"/><rect x="1103" y="674" width="9" height="9"/><rect x="1101" y="677" width="9" height="9"/><rect x="1098" y="678" width="9" height="9"/><rect x="1095" y="680" width="9" height="9"/><rect x="1093" y="681" width="9" height="9"/><rect x="1090" y="682" width="9" height="9"/><rect x="1088" y="684" width="9" height="9"/><rect x="1085" y="685" width="9" height="9"/><rect x="1082" y="687" width="9" height="9"/><rect x="1080" y="688" width="9" height="9"/><rect x="1077" y="690" width="9" height="9"/><rect x="1075" y="691" width="9" height="9"/><rect x="1072" y="693" width="9" height="9"/><rect x="1070" y="694" width="9" height="9"/><rect x="1067" y="695" width="9" height="9"/><rect x="1065" y="697" width="9" height="9"/><rect x="1062" y="698" width="9" height="9"/><rect x="1060" y="699" width="9" height="9"/><rect x="1058" y="700" width="9" height="9"/><rect x="1055" y="701" width="9" height="9"/><rect x="1053" y="702" width="9" height="9"/><rect x="1050" y="703" width="9" height="9"/><rect x="1048" y="704" width="9" height="9"/><rect x="1046" y="705" width="9" height="9"/><rect x="1043" y="706" width="9" height="9"/><rect x="1041" y="707" width="9" height="9"/><rect x="1039" y="708" width="9" height="9"/><rect x="1036" y="709" width="9" height="9"/><rect x="1034" y="710" width="9" height="9"/><rect x="1032" y="711" width="9" height="9"/><rect x="1029" y="712" width="9" height="9"/><rect x="1027" y="713" width="9" height="9"/><rect x="1025" y="713" width="9" height="9"/><rect x="1023" y="714" width="9" height="9"/><rect x="1020" y="715" width="9" height="9"/><rect x="1018" y="716" width="9" height="9"/><rect x="1016" y="717" width="9" height="9"/><rect x="1014" y="717" width="9" height="9"/><rect x="1012" y="718" width="9" height="9"/><rect x="1009" y="719" width="9" height="9"/><rect x="1007" y="719" width="9" height="9"/><rect x="1005" y="720" width="9" height="9"/><rect x="1003" y="721" width="9" height="9"/><rect x="1001" y="721" width="9" height="9"/><rect x="999" y="722" width="9" height="9"/><rect x="997" y="722" width="9" height="9"/><rect x="995" y="723" width="9" height="9"/><rect x="992" y="723" width="9" height="9"/><rect x="990" y="723" width="9" height="9"/><rect x="988" y="724" width="9" height="9"/><rect x="986" y="724" width="9" height="9"/><rect x="984" y="725" width="9" height="9"/><rect x="982" y="725" width="9" height="9"/><rect x="980" y="725" width="9" height="9"/><rect x="978" y="726" width="9" height="9"/><rect x="976" y="726" width="9" height="9"/><rect x="974" y="726" width="9" height="9"/><rect x="972" y="727" width="9" height="9"/><rect x="970" y="727" width="9" height="9"/><rect x="968" y="727" width="9" height="9"/><rect x="966" y="728" width="9" height="9"/><rect x="964" y="728" width="9" height="9"/><rect x="962" y="728" width="9" height="9"/><rect x="960" y="729" width="9" height="9"/><rect x="958" y="729" width="9" height="9"/><rect x="956" y="729" width="9" height="9"/><rect x="955" y="730" width="9" height="9"/><rect x="953" y="730" width="9" height="9"/><rect x="951" y="730" width="9" height="9"/><rect x="949" y="730" width="9" height="9"/><rect x="947" y="731" width="9" height="9"/><rect x="945" y="731" width="9" height="9"/><rect x="943" y="731" width="9" height="9"/><rect x="941" y="731" width="9" height="9"/><rect x="940" y="732" width="9" height="9"/><rect x="938" y="732" width="9" height="9"/><rect x="936" y="732" width="9" height="9"/><rect x="934" y="732" width="9" height="9"/><rect x="932" y="732" width="9" height="9"/><rect x="930" y="733" width="9" height="9"/><rect x="929" y="733" width="9" height="9"/><rect x="927" y="733" width="9" height="9"/><rect x="925" y="733" width="9" height="9"/><rect x="923" y="733" width="9" height="9"/><rect x="922" y="734" width="9" height="9"/><rect x="920" y="734" width="9" height="9"/><rect x="918" y="734" width="9" height="9"/><rect x="916" y="734" width="9" height="9"/><rect x="915" y="734" width="9" height="9"/><rect x="913" y="734" width="9" height="9"/><rect x="911" y="735" width="9" height="9"/><rect x="910" y="735" width="9" height="9"/><rect x="908" y="735" width="9" height="9"/><rect x="906" y="735" width="9" height="9"/><rect x="904" y="735" width="9" height="9"/><rect x="903" y="735" width="9" height="9"/><rect x="901" y="735" width="9" height="9"/><rect x="899" y="736" width="9" height="9"/><rect x="898" y="736" width="9" height="9"/><rect x="896" y="736" width="9" height="9"/><rect x="894" y="736" width="9" height="9"/><rect x="893" y="736" width="9" height="9"/><rect x="891" y="736" width="9" height="9"/><rect x="890" y="736" width="9" height="9"/><rect x="888" y="736" width="9" height="9"/><rect x="886" y="737" width="9" height="9"/><rect x="885" y="737" width="9" height="9"/><rect x="883" y="737" width="9" height="9"/><rect x="882" y="737" width="9" height="9"/><rect x="880" y="737" width="9" height="9"/><rect x="878" y="737" width="9" height="9"/><rect x="877" y="737" width="9" height="9"/><rect x="875" y="737" width="9" height="9"/><rect x="874" y="737" width="9" height="9"/><rect x="872" y="737" width="9" height="9"/><rect x="871" y="737" width="9" height="9"/><rect x="869" y="737" width="9" height="9"/><rect x="868" y="737" width="9" height="9"/><rect x="866" y="737" width="9" height="9"/><rect x="865" y="738" width="9" height="9"/><rect x="863" y="738" width="9" height="9"/><rect x="862" y="738" width="9" height="9"/><rect x="860" y="738" width="9" height="9"/><rect x="859" y="738" width="9" height="9"/><rect x="857" y="738" width="9" height="9"/><rect x="856" y="738" width="9" height="9"/><rect x="854" y="738" width="9" height="9"/><rect x="853" y="738" width="9" height="9"/><rect x="851" y="738" width="9" height="9"/><rect x="850" y="738" width="9" height="9"/><rect x="848" y="738" width="9" height="9"/><rect x="847" y="738" width="9" height="9"/><rect x="846" y="738" width="9" height="9"/>
<path fill="#fff" stroke="#d42aff" stroke-width="2" d="M271 744h9v9h-9zM272 744h9v9h-9zM272 744h9v9h-9zM273 744h9v9h-9zM274 744h9v9h-9zM275 744h9v9h-9zM276 744h9v9h-9zM277 744h9v9h-9zM278 744h9v9h-9zM279 744h9v9h-9zM280 744h9v9h-9zM281 744h9v9h-9zM282 744h9v9h-9zM283 744h9v9h-9zM284 744h9v9h-9zM285 744h9v9h-9zM285 744h9v9h-9zM286 744h9v9h-9zM287 744h9v9h-9zM288 744h9v9h-9zM289 744h9v9h-9zM290 744h9v9h-9zM291 744h9v9h-9zM292 744h9v9h-9zM293 744h9v9h-9zM294 744h9v9h-9zM295 744h9v9h-9zM296 744h9v9h-9zM297 744h9v9h-9zM298 744h9v9h-9zM299 744h9v9h-9zM300 744h9v9h-9zM300 744h9v9h-9zM301 744h9v9h-9zM302 744h9v9h-9zM303 744h9v9h-9zM304 744h9v9h-9zM305 744h9v9h-9zM306 744h9v9h-9zM307 744h9v9h-9zM308 744h9v9h-9zM309 744h9v9h-9zM310 743h9v9h-9zM311 743h9v9h-9zM312 743h9v9h-9zM313 743h9v9h-9zM314 743h9v9h-9zM315 743h9v9h-9zM316 743h9v9h-9zM316 743h9v9h-9zM317 743h9v9h-9zM318 743h9v9h-9zM319 743h9v9h-9zM320 743h9v9h-9zM321 743h9v9h-9zM322 743h9v9h-9zM323 743h9v9h-9zM324 743h9v9h-9zM325 743h9v9h-9zM326 743h9v9h-9zM327 743h9v9h-9zM328 743h9v9h-9zM329 743h9v9h-9zM330 743h9v9h-9zM331 743h9v9h-9zM332 743h9v9h-9zM333 743h9v9h-9zM334 743h9v9h-9zM335 743h9v9h-9zM336 743h9v9h-9zM337 743h9v9h-9zM337 743h9v9h-9zM338 743h9v9h-9zM339 743h9v9h-9zM340 743h9v9h-9zM341 743h9v9h-9zM342 743h9v9h-9zM343 743h9v9h-9zM344 743h9v9h-9zM345 743h9v9h-9zM346 743h9v9h-9zM347 743h9v9h-9zM348 743h9v9h-9zM349 743h9v9h-9zM350 743h9v9h-9zM351 743h9v9h-9zM352 743h9v9h-9zM353 743h9v9h-9zM354 743h9v9h-9zM355 743h9v9h-9zM356 743h9v9h-9zM357 743h9v9h-9zM358 743h9v9h-9zM358 743h9v9h-9zM359 742h9v9h-9zM360 742h9v9h-9zM361 742h9v9h-9zM362 742h9v9h-9zM363 742h9v9h-9zM365 742h9v9h-9zM366 742h9v9h-9zM367 742h9v9h-9zM368 742h9v9h-9zM368 742h9v9h-9zM369 742h9v9h-9zM370 742h9v9h-9zM371 742h9v9h-9zM372 742h9v9h-9zM373 742h9v9h-9zM374 742h9v9h-9zM375 742h9v9h-9zM376 742h9v9h-9zM377 742h9v9h-9zM378 742h9v9h-9zM379 742h9v9h-9zM380 742h9v9h-9zM381 742h9v9h-9zM382 742h9v9h-9zM383 742h9v9h-9zM384 742h9v9h-9zM385 742h9v9h-9zM386 742h9v9h-9zM387 742h9v9h-9zM388 742h9v9h-9zM389 742h9v9h-9zM390 742h9v9h-9zM391 742h9v9h-9zM392 742h9v9h-9zM393 742h9v9h-9zM394 742h9v9h-9zM395 742h9v9h-9zM396 742h9v9h-9zM397 742h9v9h-9zM398 742h9v9h-9zM399 742h9v9h-9zM400 742h9v9h-9zM401 742h9v9h-9zM402 742h9v9h-9zM403 742h9v9h-9zM404 742h9v9h-9zM405 742h9v9h-9zM406 742h9v9h-9zM407 742h9v9h-9zM408 742h9v9h-9zM409 742h9v9h-9zM410 742h9v9h-9zM411 741h9v9h-9zM412 741h9v9h-9zM413 741h9v9h-9zM414 741h9v9h-9zM415 741h9v9h-9zM416 741h9v9h-9zM418 741h9v9h-9zM419 741h9v9h-9zM419 741h9v9h-9zM420 741h9v9h-9zM421 741h9v9h-9zM422 741h9v9h-9zM423 741h9v9h-9zM424 741h9v9h-9zM425 741h9v9h-9zM426 741h9v9h-9zM427 741h9v9h-9zM428 741h9v9h-9zM429 741h9v9h-9zM430 741h9v9h-9zM431 741h9v9h-9zM432 741h9v9h-9zM433 741h9v9h-9zM434 741h9v9h-9zM435 741h9v9h-9zM436 741h9v9h-9zM437 741h9v9h-9zM438 741h9v9h-9zM439 741h9v9h-9zM440 741h9v9h-9zM441 741h9v9h-9zM442 741h9v9h-9zM443 741h9v9h-9zM444 741h9v9h-9zM445 741h9v9h-9zM446 741h9v9h-9zM447 741h9v9h-9zM449 741h9v9h-9zM450 741h9v9h-9zM451 741h9v9h-9zM452 741h9v9h-9zM453 741h9v9h-9zM454 741h9v9h-9zM455 741h9v9h-9zM457 741h9v9h-9zM458 741h9v9h-9zM459 741h9v9h-9zM460 741h9v9h-9zM461 741h9v9h-9zM462 741h9v9h-9zM463 741h9v9h-9zM464 741h9v9h-9zM465 741h9v9h-9zM466 741h9v9h-9zM467 741h9v9h-9zM468 741h9v9h-9zM469 741h9v9h-9zM470 741h9v9h-9zM471 740h9v9h-9zM471 740h9v9h-9zM472 740h9v9h-9zM473 740h9v9h-9zM474 740h9v9h-9zM475 740h9v9h-9zM476 740h9v9h-9zM477 740h9v9h-9zM478 740h9v9h-9zM479 740h9v9h-9zM480 740h9v9h-9zM481 740h9v9h-9zM482 740h9v9h-9zM483 740h9v9h-9zM484 740h9v9h-9zM485 740h9v9h-9zM487 740h9v9h-9zM488 740h9v9h-9zM489 740h9v9h-9zM490 740h9v9h-9zM491 740h9v9h-9zM492 740h9v9h-9zM493 740h9v9h-9zM494 740h9v9h-9zM495 740h9v9h-9zM496 740h9v9h-9zM497 740h9v9h-9zM498 740h9v9h-9zM500 740h9v9h-9zM501 740h9v9h-9zM502 740h9v9h-9zM503 740h9v9h-9zM504 740h9v9h-9zM505 740h9v9h-9zM506 740h9v9h-9zM508 740h9v9h-9zM509 740h9v9h-9zM510 740h9v9h-9zM511 740h9v9h-9zM512 740h9v9h-9zM514 740h9v9h-9zM515 740h9v9h-9zM516 740h9v9h-9zM517 740h9v9h-9zM518 740h9v9h-9zM520 740h9v9h-9zM521 740h9v9h-9zM522 740h9v9h-9zM524 740h9v9h-9zM525 740h9v9h-9zM526 740h9v9h-9zM527 740h9v9h-9zM529 740h9v9h-9zM530 740h9v9h-9zM531 740h9v9h-9zM533 740h9v9h-9zM534 740h9v9h-9zM535 740h9v9h-9zM536 740h9v9h-9zM537 740h9v9h-9zM538 740h9v9h-9zM539 740h9v9h-9zM540 740h9v9h-9zM540 740h9v9h-9zM541 740h9v9h-9zM542 740h9v9h-9zM543 740h9v9h-9zM544 740h9v9h-9zM545 740h9v9h-9zM546 740h9v9h-9zM547 740h9v9h-9zM548 740h9v9h-9zM549 740h9v9h-9zM550 740h9v9h-9zM551 740h9v9h-9zM552 740h9v9h-9zM553 740h9v9h-9zM554 740h9v9h-9zM555 740h9v9h-9zM556 740h9v9h-9zM557 740h9v9h-9zM558 740h9v9h-9zM559 740h9v9h-9zM560 740h9v9h-9zM561 740h9v9h-9zM562 740h9v9h-9zM563 740h9v9h-9zM564 740h9v9h-9zM565 740h9v9h-9zM566 740h9v9h-9zM567 740h9v9h-9zM568 740h9v9h-9zM569 740h9v9h-9zM570 740h9v9h-9zM571 740h9v9h-9zM573 740h9v9h-9zM574 740h9v9h-9zM575 740h9v9h-9zM576 740h9v9h-9zM577 740h9v9h-9zM578 740h9v9h-9zM579 740h9v9h-9zM580 740h9v9h-9zM581 740h9v9h-9zM583 740h9v9h-9zM584 740h9v9h-9zM585 740h9v9h-9zM586 740h9v9h-9zM587 740h9v9h-9zM588 740h9v9h-9zM589 740h9v9h-9zM591 740h9v9h-9zM592 740h9v9h-9zM593 740h9v9h-9zM594 740h9v9h-9zM595 740h9v9h-9zM597 740h9v9h-9zM598 740h9v9h-9zM599 740h9v9h-9zM600 740h9v9h-9zM601 740h9v9h-9zM603 740h9v9h-9zM604 740h9v9h-9zM605 740h9v9h-9zM606 740h9v9h-9zM608 740h9v9h-9zM609 740h9v9h-9zM610 740h9v9h-9zM611 740h9v9h-9zM613 740h9v9h-9zM614 740h9v9h-9zM615 740h9v9h-9zM617 740h9v9h-9zM618 740h9v9h-9zM619 740h9v9h-9zM621 740h9v9h-9zM622 740h9v9h-9zM623 740h9v9h-9zM625 740h9v9h-9zM626 740h9v9h-9zM627 740h9v9h-9zM629 740h9v9h-9zM630 740h9v9h-9zM632 740h9v9h-9zM633 740h9v9h-9zM634 740h9v9h-9zM636 740h9v9h-9zM637 740h9v9h-9zM639 740h9v9h-9zM640 740h9v9h-9zM642 740h9v9h-9zM643 740h9v9h-9zM644 740h9v9h-9zM646 740h9v9h-9zM647 740h9v9h-9zM649 740h9v9h-9zM650 740h9v9h-9zM652 740h9v9h-9zM653 740h9v9h-9zM655 740h9v9h-9zM656 740h9v9h-9zM658 740h9v9h-9zM660 740h9v9h-9zM661 740h9v9h-9zM663 740h9v9h-9zM664 740h9v9h-9zM666 740h9v9h-9zM667 740h9v9h-9zM669 740h9v9h-9zM671 740h9v9h-9zM672 740h9v9h-9zM674 740h9v9h-9zM676 740h9v9h-9zM677 740h9v9h-9zM679 740h9v9h-9zM681 740h9v9h-9zM682 740h9v9h-9zM684 740h9v9h-9zM686 740h9v9h-9zM687 740h9v9h-9zM689 740h9v9h-9zM691 740h9v9h-9zM693 740h9v9h-9zM695 740h9v9h-9zM696 740h9v9h-9zM698 740h9v9h-9zM700 740h9v9h-9zM701 739h9v9h-9zM702 739h9v9h-9zM703 739h9v9h-9zM704 739h9v9h-9zM704 739h9v9h-9zM705 739h9v9h-9zM706 739h9v9h-9zM707 739h9v9h-9zM708 739h9v9h-9zM709 739h9v9h-9zM710 739h9v9h-9zM711 739h9v9h-9zM712 739h9v9h-9zM713 739h9v9h-9zM714 739h9v9h-9zM715 739h9v9h-9zM716 739h9v9h-9zM717 739h9v9h-9zM718 739h9v9h-9zM719 739h9v9h-9zM720 739h9v9h-9zM720 739h9v9h-9zM721 739h9v9h-9zM722 739h9v9h-9zM723 739h9v9h-9zM724 739h9v9h-9zM725 739h9v9h-9zM726 739h9v9h-9zM727 739h9v9h-9zM728 739h9v9h-9zM729 739h9v9h-9zM730 739h9v9h-9zM731 739h9v9h-9zM732 739h9v9h-9zM733 739h9v9h-9zM734 739h9v9h-9zM735 739h9v9h-9zM736 739h9v9h-9zM737 739h9v9h-9zM739 739h9v9h-9zM740 739h9v9h-9zM741 739h9v9h-9zM742 739h9v9h-9zM743 739h9v9h-9zM744 739h9v9h-9zM745 739h9v9h-9zM746 739h9v9h-9zM747 739h9v9h-9zM748 739h9v9h-9zM749 739h9v9h-9zM750 739h9v9h-9zM751 739h9v9h-9zM752 739h9v9h-9zM753 739h9v9h-9zM754 739h9v9h-9zM755 739h9v9h-9zM757 739h9v9h-9zM758 739h9v9h-9zM759 739h9v9h-9zM760 739h9v9h-9zM761 739h9v9h-9zM762 739h9v9h-9zM763 739h9v9h-9zM764 739h9v9h-9zM765 739h9v9h-9zM767 739h9v9h-9zM768 739h9v9h-9zM769 739h9v9h-9zM770 739h9v9h-9zM771 739h9v9h-9zM772 739h9v9h-9zM773 739h9v9h-9zM775 739h9v9h-9zM776 739h9v9h-9zM777 739h9v9h-9zM778 739h9v9h-9zM779 739h9v9h-9zM780 739h9v9h-9zM782 739h9v9h-9zM783 739h9v9h-9zM784 739h9v9h-9zM785 739h9v9h-9zM786 739h9v9h-9zM788 739h9v9h-9zM789 739h9v9h-9zM790 739h9v9h-9zM791 739h9v9h-9zM793 739h9v9h-9zM794 739h9v9h-9zM795 739h9v9h-9zM796 739h9v9h-9zM797 739h9v9h-9zM799 739h9v9h-9zM800 739h9v9h-9zM801 738h9v9h-9zM802 738h9v9h-9zM804 738h9v9h-9zM805 738h9v9h-9zM806 738h9v9h-9zM808 738h9v9h-9zM809 738h9v9h-9zM810 738h9v9h-9zM811 738h9v9h-9zM813 738h9v9h-9zM814 738h9v9h-9zM815 738h9v9h-9zM817 738h9v9h-9zM818 738h9v9h-9zM819 738h9v9h-9zM821 738h9v9h-9zM822 738h9v9h-9zM823 738h9v9h-9zM825 738h9v9h-9zM826 738h9v9h-9zM827 738h9v9h-9zM829 738h9v9h-9zM830 738h9v9h-9zM831 738h9v9h-9zM833 738h9v9h-9zM834 738h9v9h-9zM836 738h9v9h-9zM837 738h9v9h-9zM838 738h9v9h-9zM840 738h9v9h-9zM841 738h9v9h-9zM843 738h9v9h-9zM844 738h9v9h-9z"/>
<rect x="271" y="744" width="9" height="9"/>
</g>
<clipPath id="c2"><path d="M141 749.5H1302V1096H141z"/></clipPath>
<g clip-path="url(#c2)" class="g2">
<rect x="1295" y="798" width="9" height="9"/><rect x="1291" y="797" width="9" height="9"/><rect x="1287" y="806" width="9" height="9"/><rect x="1283" y="809" width="9" height="9"/><rect x="1280" y="814" width="9" height="9"/><rect x="1276" y="820" width="9" height="9"/><rect x="1272" y="825" width="9" height="9"/><rect x="1268" y="834" width="9" height="9"/><rect x="1265" y="839" width="9" height="9"/><rect x="1261" y="848" width="9" height="9"/><rect x="1258" y="853" width="9" height="9"/><rect x="1254" y="865" width="9" height="9"/><rect x="1251" y="871" width="9" height="9"/><rect x="1247" y="875" width="9" height="9"/><rect x="1244" y="880" width="9" height="9"/><rect x="1240" y="886" width="9" height="9"/><rect x="1237" y="892" width="9" height="9"/><rect x="1233" y="898" width="9" height="9"/><rect x="1230" y="903" width="9" height="9"/><rect x="1226" y="908" width="9" height="9"/><rect x="1223" y="911" width="9" height="9"/><rect x="1220" y="913" width="9" height="9"/><rect x="1216" y="916" width="9" height="9"/><rect x="1213" y="919" width="9" height="9"/><rect x="1210" y="923" width="9" height="9"/><rect x="1206" y="926" width="9" height="9"/><rect x="1203" y="931" width="9" height="9"/><rect x="1200" y="935" width="9" height="9"/><rect x="1197" y="937" width="9" height="9"/><rect x="1194" y="941" width="9" height="9"/><rect x="1190" y="945" width="9" height="9"/><rect x="1187" y="949" width="9" height="9"/><rect x="1184" y="952" width="9" height="9"/><rect x="1181" y="955" width="9" height="9"/><rect x="1178" y="959" width="9" height="9"/><rect x="1175" y="963" width="9" height="9"/><rect x="1172" y="966" width="9" height="9"/><rect x="1169" y="969" width="9" height="9"/><rect x="1166" y="971" width="9" height="9"/><rect x="1163" y="974" width="9" height="9"/><rect x="1160" y="976" width="9" height="9"/><rect x="1157" y="978" width="9" height="9"/><rect x="1154" y="981" width="9" height="9"/><rect x="1151" y="984" width="9" height="9"/><rect x="1148" y="987" width="9" height="9"/><rect x="1145" y="990" width="9" height="9"/><rect x="1142" y="993" width="9" height="9"/><rect x="1139" y="996" width="9" height="9"/><rect x="1136" y="999" width="9" height="9"/><rect x="1133" y="1001" width="9" height="9"/><rect x="1131" y="1003" width="9" height="9"/><rect x="1128" y="1004" width="9" height="9"/><rect x="1125" y="1007" width="9" height="9"/><rect x="1122" y="1009" width="9" height="9"/><rect x="1119" y="1011" width="9" height="9"/><rect x="1117" y="1012" width="9" height="9"/><rect x="1114" y="1014" width="9" height="9"/><rect x="1111" y="1016" width="9" height="9"/><rect x="1109" y="1017" width="9" height="9"/><rect x="1106" y="1019" width="9" height="9"/><rect x="1103" y="1023" width="9" height="9"/><rect x="1101" y="1026" width="9" height="9"/><rect x="1098" y="1027" width="9" height="9"/><rect x="1095" y="1028" width="9" height="9"/><rect x="1093" y="1029" width="9" height="9"/><rect x="1090" y="1031" width="9" height="9"/><rect x="1088" y="1032" width="9" height="9"/><rect x="1085" y="1034" width="9" height="9"/><rect x="1082" y="1035" width="9" height="9"/><rect x="1080" y="1037" width="9" height="9"/><rect x="1077" y="1039" width="9" height="9"/><rect x="1075" y="1040" width="9" height="9"/><rect x="1072" y="1042" width="9" height="9"/><rect x="1070" y="1043" width="9" height="9"/><rect x="1067" y="1044" width="9" height="9"/><rect x="1065" y="1045" width="9" height="9"/><rect x="1062" y="1047" width="9" height="9"/><rect x="1060" y="1048" width="9" height="9"/><rect x="1058" y="1049" width="9" height="9"/><rect x="1055" y="1050" width="9" height="9"/><rect x="1053" y="1051" width="9" height="9"/><rect x="1050" y="1051" width="9" height="9"/><rect x="1048" y="1052" width="9" height="9"/><rect x="1046" y="1053" width="9" height="9"/><rect x="1043" y="1054" width="9" height="9"/><rect x="1041" y="1055" width="9" height="9"/><rect x="1039" y="1056" width="9" height="9"/><rect x="1036" y="1056" width="9" height="9"/><rect x="1034" y="1057" width="9" height="9"/><rect x="1032" y="1058" width="9" height="9"/><rect x="1029" y="1059" width="9" height="9"/><rect x="1027" y="1060" width="9" height="9"/><rect x="1025" y="1060" width="9" height="9"/><rect x="1023" y="1061" width="9" height="9"/><rect x="1020" y="1062" width="9" height="9"/><rect x="1018" y="1063" width="9" height="9"/><rect x="1016" y="1063" width="9" height="9"/><rect x="1014" y="1064" width="9" height="9"/><rect x="1012" y="1064" width="9" height="9"/><rect x="1009" y="1065" width="9" height="9"/><rect x="1007" y="1065" width="9" height="9"/><rect x="1005" y="1066" width="9" height="9"/><rect x="1003" y="1066" width="9" height="9"/><rect x="1001" y="1067" width="9" height="9"/><rect x="999" y="1067" width="9" height="9"/><rect x="997" y="1068" width="9" height="9"/><rect x="995" y="1068" width="9" height="9"/><rect x="992" y="1068" width="9" height="9"/><rect x="990" y="1069" width="9" height="9"/><rect x="988" y="1069" width="9" height="9"/><rect x="986" y="1069" width="9" height="9"/><rect x="984" y="1070" width="9" height="9"/><rect x="982" y="1070" width="9" height="9"/><rect x="980" y="1070" width="9" height="9"/><rect x="978" y="1071" width="9" height="9"/><rect x="976" y="1071" width="9" height="9"/><rect x="974" y="1071" width="9" height="9"/><rect x="972" y="1072" width="9" height="9"/><rect x="970" y="1072" width="9" height="9"/><rect x="968" y="1072" width="9" height="9"/><rect x="966" y="1072" width="9" height="9"/><rect x="964" y="1073" width="9" height="9"/><rect x="962" y="1073" width="9" height="9"/><rect x="960" y="1073" width="9" height="9"/><rect x="958" y="1074" width="9" height="9"/><rect x="956" y="1074" width="9" height="9"/><rect x="955" y="1074" width="9" height="9"/><rect x="953" y="1074" width="9" height="9"/><rect x="951" y="1075" width="9" height="9"/><rect x="949" y="1075" width="9" height="9"/><rect x="947" y="1075" width="9" height="9"/><rect x="945" y="1075" width="9" height="9"/><rect x="943" y="1075" width="9" height="9"/><rect x="941" y="1076" width="9" height="9"/><rect x="940" y="1076" width="9" height="9"/><rect x="938" y="1076" width="9" height="9"/><rect x="936" y="1076" width="9" height="9"/><rect x="934" y="1077" width="9" height="9"/><rect x="932" y="1077" width="9" height="9"/><rect x="930" y="1077" width="9" height="9"/><rect x="929" y="1077" width="9" height="9"/><rect x="927" y="1077" width="9" height="9"/><rect x="925" y="1078" width="9" height="9"/><rect x="923" y="1078" width="9" height="9"/><rect x="922" y="1078" width="9" height="9"/><rect x="920" y="1078" width="9" height="9"/><rect x="918" y="1078" width="9" height="9"/><rect x="916" y="1079" width="9" height="9"/><rect x="915" y="1079" width="9" height="9"/><rect x="913" y="1079" width="9" height="9"/><rect x="911" y="1079" width="9" height="9"/><rect x="910" y="1079" width="9" height="9"/><rect x="908" y="1079" width="9" height="9"/><rect x="906" y="1080" width="9" height="9"/><rect x="904" y="1080" width="9" height="9"/><rect x="903" y="1080" width="9" height="9"/><rect x="901" y="1080" width="9" height="9"/><rect x="899" y="1080" width="9" height="9"/><rect x="898" y="1080" width="9" height="9"/><rect x="896" y="1080" width="9" height="9"/><rect x="894" y="1081" width="9" height="9"/><rect x="893" y="1081" width="9" height="9"/><rect x="891" y="1081" width="9" height="9"/><rect x="890" y="1081" width="9" height="9"/><rect x="888" y="1081" width="9" height="9"/><rect x="886" y="1081" width="9" height="9"/><rect x="885" y="1081" width="9" height="9"/><rect x="883" y="1081" width="9" height="9"/><rect x="882" y="1081" width="9" height="9"/><rect x="880" y="1081" width="9" height="9"/><rect x="878" y="1081" width="9" height="9"/><rect x="877" y="1082" width="9" height="9"/><rect x="875" y="1082" width="9" height="9"/><rect x="874" y="1082" width="9" height="9"/><rect x="872" y="1082" width="9" height="9"/><rect x="871" y="1082" width="9" height="9"/><rect x="869" y="1082" width="9" height="9"/><rect x="868" y="1082" width="9" height="9"/><rect x="866" y="1082" width="9" height="9"/><rect x="865" y="1082" width="9" height="9"/><rect x="863" y="1082" width="9" height="9"/><rect x="862" y="1082" width="9" height="9"/><rect x="860" y="1082" width="9" height="9"/><rect x="859" y="1082" width="9" height="9"/><rect x="857" y="1082" width="9" height="9"/><rect x="856" y="1083" width="9" height="9"/><rect x="854" y="1083" width="9" height="9"/><rect x="853" y="1083" width="9" height="9"/><rect x="851" y="1083" width="9" height="9"/><rect x="850" y="1083" width="9" height="9"/><rect x="848" y="1083" width="9" height="9"/><rect x="847" y="1083" width="9" height="9"/><rect x="846" y="1083" width="9" height="9"/>
<path fill="#fff" stroke="#0014c0" stroke-width="2" d="M271 1089h9v9h-9zM272 1089h9v9h-9zM272 1089h9v9h-9zM273 1089h9v9h-9zM274 1089h9v9h-9zM275 1089h9v9h-9zM276 1089h9v9h-9zM277 1089h9v9h-9zM278 1089h9v9h-9zM279 1089h9v9h-9zM280 1089h9v9h-9zM281 1089h9v9h-9zM282 1089h9v9h-9zM283 1089h9v9h-9zM284 1089h9v9h-9zM285 1089h9v9h-9zM285 1089h9v9h-9zM286 1089h9v9h-9zM287 1089h9v9h-9zM288 1089h9v9h-9zM289 1089h9v9h-9zM290 1089h9v9h-9zM291 1089h9v9h-9zM292 1089h9v9h-9zM293 1089h9v9h-9zM294 1089h9v9h-9zM295 1089h9v9h-9zM296 1089h9v9h-9zM297 1089h9v9h-9zM298 1089h9v9h-9zM299 1089h9v9h-9zM300 1089h9v9h-9zM300 1089h9v9h-9zM301 1089h9v9h-9zM302 1089h9v9h-9zM303 1089h9v9h-9zM304 1089h9v9h-9zM305 1089h9v9h-9zM306 1089h9v9h-9zM307 1089h9v9h-9zM308 1089h9v9h-9zM309 1089h9v9h-9zM310 1089h9v9h-9zM311 1089h9v9h-9zM312 1089h9v9h-9zM313 1089h9v9h-9zM314 1089h9v9h-9zM315 1089h9v9h-9zM316 1089h9v9h-9zM316 1089h9v9h-9zM317 1089h9v9h-9zM318 1089h9v9h-9zM319 1089h9v9h-9zM320 1089h9v9h-9zM321 1088h9v9h-9zM322 1088h9v9h-9zM323 1088h9v9h-9zM324 1088h9v9h-9zM325 1088h9v9h-9zM326 1088h9v9h-9zM327 1088h9v9h-9zM328 1088h9v9h-9zM329 1088h9v9h-9zM330 1088h9v9h-9zM331 1088h9v9h-9zM332 1088h9v9h-9zM333 1088h9v9h-9zM334 1088h9v9h-9zM335 1088h9v9h-9zM336 1088h9v9h-9zM337 1088h9v9h-9zM337 1088h9v9h-9zM338 1088h9v9h-9zM339 1088h9v9h-9zM340 1088h9v9h-9zM341 1088h9v9h-9zM342 1088h9v9h-9zM343 1088h9v9h-9zM344 1088h9v9h-9zM345 1088h9v9h-9zM346 1088h9v9h-9zM347 1088h9v9h-9zM348 1088h9v9h-9zM349 1088h9v9h-9zM350 1088h9v9h-9zM351 1088h9v9h-9zM352 1088h9v9h-9zM353 1088h9v9h-9zM354 1088h9v9h-9zM355 1088h9v9h-9zM356 1088h9v9h-9zM357 1088h9v9h-9zM358 1088h9v9h-9zM358 1088h9v9h-9zM359 1088h9v9h-9zM360 1088h9v9h-9zM361 1088h9v9h-9zM362 1088h9v9h-9zM363 1088h9v9h-9zM365 1088h9v9h-9zM366 1088h9v9h-9zM367 1088h9v9h-9zM368 1088h9v9h-9zM368 1088h9v9h-9zM369 1088h9v9h-9zM370 1088h9v9h-9zM371 1088h9v9h-9zM372 1088h9v9h-9zM373 1088h9v9h-9zM374 1088h9v9h-9zM375 1088h9v9h-9zM376 1088h9v9h-9zM377 1088h9v9h-9zM378 1088h9v9h-9zM379 1088h9v9h-9zM380 1088h9v9h-9zM381 1087h9v9h-9zM382 1087h9v9h-9zM383 1087h9v9h-9zM384 1087h9v9h-9zM385 1087h9v9h-9zM386 1087h9v9h-9zM387 1087h9v9h-9zM388 1087h9v9h-9zM389 1087h9v9h-9zM390 1087h9v9h-9zM391 1087h9v9h-9zM392 1087h9v9h-9zM393 1087h9v9h-9zM394 1087h9v9h-9zM395 1087h9v9h-9zM396 1087h9v9h-9zM397 1087h9v9h-9zM398 1087h9v9h-9zM399 1087h9v9h-9zM400 1087h9v9h-9zM401 1087h9v9h-9zM402 1087h9v9h-9zM403 1087h9v9h-9zM404 1087h9v9h-9zM405 1087h9v9h-9zM406 1087h9v9h-9zM407 1087h9v9h-9zM408 1087h9v9h-9zM409 1087h9v9h-9zM410 1087h9v9h-9zM411 1087h9v9h-9zM412 1087h9v9h-9zM413 1087h9v9h-9zM414 1087h9v9h-9zM415 1087h9v9h-9zM416 1087h9v9h-9zM418 1087h9v9h-9zM419 1087h9v9h-9zM419 1087h9v9h-9zM420 1087h9v9h-9zM421 1087h9v9h-9zM422 1087h9v9h-9zM423 1087h9v9h-9zM424 1087h9v9h-9zM425 1087h9v9h-9zM426 1087h9v9h-9zM427 1087h9v9h-9zM428 1087h9v9h-9zM429 1087h9v9h-9zM430 1087h9v9h-9zM431 1087h9v9h-9zM432 1087h9v9h-9zM433 1087h9v9h-9zM434 1087h9v9h-9zM435 1087h9v9h-9zM436 1087h9v9h-9zM437 1087h9v9h-9zM438 1087h9v9h-9zM439 1086h9v9h-9zM440 1086h9v9h-9zM441 1086h9v9h-9zM442 1086h9v9h-9zM443 1086h9v9h-9zM444 1086h9v9h-9zM445 1086h9v9h-9zM446 1086h9v9h-9zM447 1086h9v9h-9zM449 1086h9v9h-9zM450 1086h9v9h-9zM451 1086h9v9h-9zM452 1086h9v9h-9zM453 1086h9v9h-9zM454 1086h9v9h-9zM455 1086h9v9h-9zM457 1086h9v9h-9zM458 1086h9v9h-9zM459 1086h9v9h-9zM460 1086h9v9h-9zM461 1086h9v9h-9zM462 1086h9v9h-9zM463 1086h9v9h-9zM464 1086h9v9h-9zM465 1086h9v9h-9zM466 1086h9v9h-9zM467 1086h9v9h-9zM468 1086h9v9h-9zM469 1086h9v9h-9zM470 1086h9v9h-9zM471 1086h9v9h-9zM471 1086h9v9h-9zM472 1086h9v9h-9zM473 1086h9v9h-9zM474 1086h9v9h-9zM475 1086h9v9h-9zM476 1086h9v9h-9zM477 1086h9v9h-9zM478 1086h9v9h-9zM479 1086h9v9h-9zM480 1086h9v9h-9zM481 1086h9v9h-9zM482 1086h9v9h-9zM483 1086h9v9h-9zM484 1086h9v9h-9zM485 1086h9v9h-9zM487 1086h9v9h-9zM488 1086h9v9h-9zM489 1086h9v9h-9zM490 1086h9v9h-9zM491 1086h9v9h-9zM492 1086h9v9h-9zM493 1086h9v9h-9zM494 1086h9v9h-9zM495 1086h9v9h-9zM496 1086h9v9h-9zM497 1086h9v9h-9zM498 1086h9v9h-9zM500 1086h9v9h-9zM501 1086h9v9h-9zM502 1086h9v9h-9zM503 1086h9v9h-9zM504 1086h9v9h-9zM505 1086h9v9h-9zM506 1086h9v9h-9zM508 1086h9v9h-9zM509 1086h9v9h-9zM510 1086h9v9h-9zM511 1086h9v9h-9zM512 1086h9v9h-9zM514 1086h9v9h-9zM515 1086h9v9h-9zM516 1086h9v9h-9zM517 1086h9v9h-9zM518 1086h9v9h-9zM520 1085h9v9h-9zM521 1085h9v9h-9zM522 1085h9v9h-9zM524 1085h9v9h-9zM525 1085h9v9h-9zM526 1085h9v9h-9zM527 1085h9v9h-9zM529 1085h9v9h-9zM530 1085h9v9h-9zM531 1085h9v9h-9zM533 1085h9v9h-9zM534 1085h9v9h-9zM535 1085h9v9h-9zM536 1085h9v9h-9zM537 1085h9v9h-9zM538 1085h9v9h-9zM539 1085h9v9h-9zM540 1085h9v9h-9zM540 1085h9v9h-9zM541 1085h9v9h-9zM542 1085h9v9h-9zM543 1085h9v9h-9zM544 1085h9v9h-9zM545 1085h9v9h-9zM546 1085h9v9h-9zM547 1085h9v9h-9zM548 1085h9v9h-9zM549 1085h9v9h-9zM550 1085h9v9h-9zM551 1085h9v9h-9zM552 1085h9v9h-9zM553 1085h9v9h-9zM554 1085h9v9h-9zM555 1085h9v9h-9zM556 1085h9v9h-9zM557 1085h9v9h-9zM558 1085h9v9h-9zM559 1085h9v9h-9zM560 1085h9v9h-9zM561 1085h9v9h-9zM562 1085h9v9h-9zM563 1085h9v9h-9zM564 1085h9v9h-9zM565 1085h9v9h-9zM566 1085h9v9h-9zM567 1085h9v9h-9zM568 1085h9v9h-9zM569 1085h9v9h-9zM570 1085h9v9h-9zM571 1085h9v9h-9zM573 1085h9v9h-9zM574 1085h9v9h-9zM575 1085h9v9h-9zM576 1085h9v9h-9zM577 1085h9v9h-9zM578 1085h9v9h-9zM579 1085h9v9h-9zM580 1085h9v9h-9zM581 1085h9v9h-9zM583 1085h9v9h-9zM584 1085h9v9h-9zM585 1085h9v9h-9zM586 1085h9v9h-9zM587 1085h9v9h-9zM588 1085h9v9h-9zM589 1085h9v9h-9zM591 1085h9v9h-9zM592 1085h9v9h-9zM593 1085h9v9h-9zM594 1085h9v9h-9zM595 1085h9v9h-9zM597 1085h9v9h-9zM598 1085h9v9h-9zM599 1085h9v9h-9zM600 1085h9v9h-9zM601 1085h9v9h-9zM603 1085h9v9h-9zM604 1085h9v9h-9zM605 1085h9v9h-9zM606 1085h9v9h-9zM608 1085h9v9h-9zM609 1085h9v9h-9zM610 1085h9v9h-9zM611 1085h9v9h-9zM613 1085h9v9h-9zM614 1085h9v9h-9zM615 1085h9v9h-9zM617 1085h9v9h-9zM618 1085h9v9h-9zM619 1085h9v9h-9zM621 1085h9v9h-9zM622 1085h9v9h-9zM623 1085h9v9h-9zM625 1085h9v9h-9zM626 1085h9v9h-9zM627 1085h9v9h-9zM629 1085h9v9h-9zM630 1085h9v9h-9zM632 1085h9v9h-9zM633 1085h9v9h-9zM634 1085h9v9h-9zM636 1085h9v9h-9zM637 1085h9v9h-9zM639 1085h9v9h-9zM640 1085h9v9h-9zM642 1085h9v9h-9zM643 1085h9v9h-9zM644 1085h9v9h-9zM646 1085h9v9h-9zM647 1085h9v9h-9zM649 1085h9v9h-9zM650 1085h9v9h-9zM652 1085h9v9h-9zM653 1085h9v9h-9zM655 1085h9v9h-9zM656 1085h9v9h-9zM658 1085h9v9h-9zM660 1085h9v9h-9zM661 1085h9v9h-9zM663 1085h9v9h-9zM664 1085h9v9h-9zM666 1085h9v9h-9zM667 1085h9v9h-9zM669 1085h9v9h-9zM671 1085h9v9h-9zM672 1085h9v9h-9zM674 1085h9v9h-9zM676 1085h9v9h-9zM677 1085h9v9h-9zM679 1085h9v9h-9zM681 1085h9v9h-9zM682 1085h9v9h-9zM684 1085h9v9h-9zM686 1085h9v9h-9zM687 1085h9v9h-9zM689 1085h9v9h-9zM691 1085h9v9h-9zM693 1085h9v9h-9zM695 1085h9v9h-9zM696 1085h9v9h-9zM698 1085h9v9h-9zM700 1085h9v9h-9zM701 1085h9v9h-9zM702 1085h9v9h-9zM703 1085h9v9h-9zM704 1085h9v9h-9zM704 1085h9v9h-9zM705 1085h9v9h-9zM706 1085h9v9h-9zM707 1085h9v9h-9zM708 1085h9v9h-9zM709 1085h9v9h-9zM710 1085h9v9h-9zM711 1085h9v9h-9zM712 1085h9v9h-9zM713 1085h9v9h-9zM714 1085h9v9h-9zM715 1085h9v9h-9zM716 1085h9v9h-9zM717 1085h9v9h-9zM718 1085h9v9h-9zM719 1085h9v9h-9zM720 1085h9v9h-9zM720 1085h9v9h-9zM721 1085h9v9h-9zM722 1085h9v9h-9zM723 1085h9v9h-9zM724 1085h9v9h-9zM725 1085h9v9h-9zM726 1085h9v9h-9zM727 1085h9v9h-9zM728 1085h9v9h-9zM729 1085h9v9h-9zM730 1085h9v9h-9zM731 1085h9v9h-9zM732 1085h9v9h-9zM733 1085h9v9h-9zM734 1085h9v9h-9zM735 1085h9v9h-9zM736 1085h9v9h-9zM737 1085h9v9h-9zM739 1085h9v9h-9zM740 1085h9v9h-9zM741 1085h9v9h-9zM742 1085h9v9h-9zM743 1085h9v9h-9zM744 1085h9v9h-9zM745 1085h9v9h-9zM746 1085h9v9h-9zM747 1085h9v9h-9zM748 1085h9v9h-9zM749 1085h9v9h-9zM750 1084h9v9h-9zM751 1084h9v9h-9zM752 1084h9v9h-9zM753 1084h9v9h-9zM754 1084h9v9h-9zM755 1084h9v9h-9zM757 1084h9v9h-9zM758 1084h9v9h-9zM759 1084h9v9h-9zM760 1084h9v9h-9zM761 1084h9v9h-9zM762 1084h9v9h-9zM763 1084h9v9h-9zM764 1084h9v9h-9zM765 1084h9v9h-9zM767 1084h9v9h-9zM768 1084h9v9h-9zM769 1084h9v9h-9zM770 1084h9v9h-9zM771 1084h9v9h-9zM772 1084h9v9h-9zM773 1084h9v9h-9zM775 1084h9v9h-9zM776 1084h9v9h-9zM777 1084h9v9h-9zM778 1084h9v9h-9zM779 1084h9v9h-9zM780 1084h9v9h-9zM782 1084h9v9h-9zM783 1084h9v9h-9zM784 1084h9v9h-9zM785 1084h9v9h-9zM786 1084h9v9h-9zM788 1084h9v9h-9zM789 1084h9v9h-9zM790 1084h9v9h-9zM791 1084h9v9h-9zM793 1084h9v9h-9zM794 1084h9v9h-9zM795 1084h9v9h-9zM796 1084h9v9h-9zM797 1084h9v9h-9zM799 1084h9v9h-9zM800 1084h9v9h-9zM801 1084h9v9h-9zM802 1084h9v9h-9zM804 1084h9v9h-9zM805 1084h9v9h-9zM806 1084h9v9h-9zM808 1084h9v9h-9zM809 1084h9v9h-9zM810 1084h9v9h-9zM811 1084h9v9h-9zM813 1084h9v9h-9zM814 1084h9v9h-9zM815 1083h9v9h-9zM817 1083h9v9h-9zM818 1083h9v9h-9zM819 1083h9v9h-9zM821 1083h9v9h-9zM822 1083h9v9h-9zM823 1083h9v9h-9zM825 1083h9v9h-9zM826 1083h9v9h-9zM827 1083h9v9h-9zM829 1083h9v9h-9zM830 1083h9v9h-9zM831 1083h9v9h-9zM833 1083h9v9h-9zM834 1083h9v9h-9zM836 1083h9v9h-9zM837 1083h9v9h-9zM838 1083h9v9h-9zM840 1083h9v9h-9zM841 1083h9v9h-9zM843 1083h9v9h-9zM844 1083h9v9h-9z"/>
<rect x="271" y="1089" width="9" height="9"/>
</g>
<clipPath id="c3"><path d="M141 1095.5H1302V1442H141z"/></clipPath>
<g clip-path="url(#c3)" class="g3">
<rect x="1295" y="1133" width="9" height="9"/><rect x="1291" y="1136" width="9" height="9"/><rect x="1287" y="1136" width="9" height="9"/><rect x="1283" y="1136" width="9" height="9"/><rect x="1280" y="1145" width="9" height="9"/><rect x="1276" y="1151" width="9" height="9"/><rect x="1272" y="1157" width="9" height="9"/><rect x="1268" y="1164" width="9" height="9"/><rect x="1265" y="1171" width="9" height="9"/><rect x="1261" y="1177" width="9" height="9"/><rect x="1258" y="1179" width="9" height="9"/><rect x="1254" y="1184" width="9" height="9"/><rect x="1251" y="1189" width="9" height="9"/><rect x="1247" y="1190" width="9" height="9"/><rect x="1244" y="1192" width="9" height="9"/><rect x="1240" y="1192" width="9" height="9"/><rect x="1237" y="1196" width="9" height="9"/><rect x="1233" y="1202" width="9" height="9"/><rect x="1230" y="1211" width="9" height="9"/><rect x="1226" y="1217" width="9" height="9"/><rect x="1223" y="1226" width="9" height="9"/><rect x="1220" y="1227" width="9" height="9"/><rect x="1216" y="1230" width="9" height="9"/><rect x="1213" y="1234" width="9" height="9"/><rect x="1210" y="1240" width="9" height="9"/><rect x="1206" y="1243" width="9" height="9"/><rect x="1203" y="1247" width="9" height="9"/><rect x="1200" y="1250" width="9" height="9"/><rect x="1197" y="1253" width="9" height="9"/><rect x="1194" y="1259" width="9" height="9"/><rect x="1190" y="1265" width="9" height="9"/><rect x="1187" y="1270" width="9" height="9"/><rect x="1184" y="1273" width="9" height="9"/><rect x="1181" y="1275" width="9" height="9"/><rect x="1178" y="1279" width="9" height="9"/><rect x="1175" y="1283" width="9" height="9"/><rect x="1172" y="1286" width="9" height="9"/><rect x="1169" y="1288" width="9" height="9"/><rect x="1166" y="1290" width="9" height="9"/><rect x="1163" y="1292" width="9" height="9"/><rect x="1160" y="1294" width="9" height="9"/><rect x="1157" y="1296" width="9" height="9"/><rect x="1154" y="1299" width="9" height="9"/><rect x="1151" y="1301" width="9" height="9"/><rect x="1148" y="1304" width="9" height="9"/><rect x="1145" y="1309" width="9" height="9"/><rect x="1142" y="1313" width="9" height="9"/><rect x="1139" y="1316" width="9" height="9"/><rect x="1136" y="1320" width="9" height="9"/><rect x="1133" y="1323" width="9" height="9"/><rect x="1131" y="1325" width="9" height="9"/><rect x="1128" y="1327" width="9" height="9"/><rect x="1125" y="1329" width="9" height="9"/><rect x="1122" y="1331" width="9" height="9"/><rect x="1119" y="1334" width="9" height="9"/><rect x="1117" y="1336" width="9" height="9"/><rect x="1114" y="1341" width="9" height="9"/><rect x="1111" y="1348" width="9" height="9"/><rect x="1109" y="1352" width="9" height="9"/><rect x="1106" y="1357" width="9" height="9"/><rect x="1103" y="1359" width="9" height="9"/><rect x="1101" y="1360" width="9" height="9"/><rect x="1098" y="1361" width="9" height="9"/><rect x="1095" y="1362" width="9" height="9"/><rect x="1093" y="1362" width="9" height="9"/><rect x="1090" y="1363" width="9" height="9"/><rect x="1088" y="1364" width="9" height="9"/><rect x="1085" y="1365" width="9" height="9"/><rect x="1082" y="1367" width="9" height="9"/><rect x="1080" y="1368" width="9" height="9"/><rect x="1077" y="1370" width="9" height="9"/><rect x="1075" y="1371" width="9" height="9"/><rect x="1072" y="1373" width="9" height="9"/><rect x="1070" y="1375" width="9" height="9"/><rect x="1067" y="1377" width="9" height="9"/><rect x="1065" y="1379" width="9" height="9"/><rect x="1062" y="1380" width="9" height="9"/><rect x="1060" y="1381" width="9" height="9"/><rect x="1058" y="1382" width="9" height="9"/><rect x="1055" y="1383" width="9" height="9"/><rect x="1053" y="1384" width="9" height="9"/><rect x="1050" y="1385" width="9" height="9"/><rect x="1048" y="1386" width="9" height="9"/><rect x="1046" y="1387" width="9" height="9"/><rect x="1043" y="1388" width="9" height="9"/><rect x="1041" y="1388" width="9" height="9"/><rect x="1039" y="1389" width="9" height="9"/><rect x="1036" y="1390" width="9" height="9"/><rect x="1034" y="1391" width="9" height="9"/><rect x="1032" y="1392" width="9" height="9"/><rect x="1029" y="1393" width="9" height="9"/><rect x="1027" y="1394" width="9" height="9"/><rect x="1025" y="1395" width="9" height="9"/><rect x="1023" y="1395" width="9" height="9"/><rect x="1020" y="1396" width="9" height="9"/><rect x="1018" y="1397" width="9" height="9"/><rect x="1016" y="1397" width="9" height="9"/><rect x="1014" y="1398" width="9" height="9"/><rect x="1012" y="1399" width="9" height="9"/><rect x="1009" y="1399" width="9" height="9"/><rect x="1007" y="1400" width="9" height="9"/><rect x="1005" y="1401" width="9" height="9"/><rect x="1003" y="1401" width="9" height="9"/><rect x="1001" y="1402" width="9" height="9"/><rect x="999" y="1402" width="9" height="9"/><rect x="997" y="1403" width="9" height="9"/><rect x="995" y="1403" width="9" height="9"/><rect x="992" y="1404" width="9" height="9"/><rect x="990" y="1404" width="9" height="9"/><rect x="988" y="1405" width="9" height="9"/><rect x="986" y="1405" width="9" height="9"/><rect x="984" y="1406" width="9" height="9"/><rect x="982" y="1406" width="9" height="9"/><rect x="980" y="1407" width="9" height="9"/><rect x="978" y="1407" width="9" height="9"/><rect x="976" y="1408" width="9" height="9"/><rect x="974" y="1408" width="9" height="9"/><rect x="972" y="1409" width="9" height="9"/><rect x="970" y="1409" width="9" height="9"/><rect x="968" y="1409" width="9" height="9"/><rect x="966" y="1410" width="9" height="9"/><rect x="964" y="1410" width="9" height="9"/><rect x="962" y="1411" width="9" height="9"/><rect x="960" y="1411" width="9" height="9"/><rect x="958" y="1411" width="9" height="9"/><rect x="956" y="1412" width="9" height="9"/><rect x="955" y="1412" width="9" height="9"/><rect x="953" y="1412" width="9" height="9"/><rect x="951" y="1413" width="9" height="9"/><rect x="949" y="1413" width="9" height="9"/><rect x="947" y="1413" width="9" height="9"/><rect x="945" y="1414" width="9" height="9"/><rect x="943" y="1414" width="9" height="9"/><rect x="941" y="1414" width="9" height="9"/><rect x="940" y="1414" width="9" height="9"/><rect x="938" y="1415" width="9" height="9"/><rect x="936" y="1415" width="9" height="9"/><rect x="934" y="1415" width="9" height="9"/><rect x="932" y="1415" width="9" height="9"/><rect x="930" y="1416" width="9" height="9"/><rect x="929" y="1416" width="9" height="9"/><rect x="927" y="1416" width="9" height="9"/><rect x="925" y="1416" width="9" height="9"/><rect x="923" y="1417" width="9" height="9"/><rect x="922" y="1417" width="9" height="9"/><rect x="920" y="1417" width="9" height="9"/><rect x="918" y="1417" width="9" height="9"/><rect x="916" y="1417" width="9" height="9"/><rect x="915" y="1418" width="9" height="9"/><rect x="913" y="1418" width="9" height="9"/><rect x="911" y="1418" width="9" height="9"/><rect x="910" y="1418" width="9" height="9"/><rect x="908" y="1419" width="9" height="9"/><rect x="906" y="1419" width="9" height="9"/><rect x="904" y="1419" width="9" height="9"/><rect x="903" y="1419" width="9" height="9"/><rect x="901" y="1419" width="9" height="9"/><rect x="899" y="1420" width="9" height="9"/><rect x="898" y="1420" width="9" height="9"/><rect x="896" y="1420" width="9" height="9"/><rect x="894" y="1420" width="9" height="9"/><rect x="893" y="1420" width="9" height="9"/><rect x="891" y="1421" width="9" height="9"/><rect x="890" y="1421" width="9" height="9"/><rect x="888" y="1421" width="9" height="9"/><rect x="886" y="1421" width="9" height="9"/><rect x="885" y="1421" width="9" height="9"/><rect x="883" y="1422" width="9" height="9"/><rect x="882" y="1422" width="9" height="9"/><rect x="880" y="1422" width="9" height="9"/><rect x="878" y="1422" width="9" height="9"/><rect x="877" y="1422" width="9" height="9"/><rect x="875" y="1423" width="9" height="9"/><rect x="874" y="1423" width="9" height="9"/><rect x="872" y="1423" width="9" height="9"/><rect x="871" y="1423" width="9" height="9"/><rect x="869" y="1423" width="9" height="9"/><rect x="868" y="1424" width="9" height="9"/><rect x="866" y="1424" width="9" height="9"/><rect x="865" y="1424" width="9" height="9"/><rect x="863" y="1424" width="9" height="9"/><rect x="862" y="1424" width="9" height="9"/><rect x="860" y="1424" width="9" height="9"/><rect x="859" y="1424" width="9" height="9"/><rect x="857" y="1425" width="9" height="9"/><rect x="856" y="1425" width="9" height="9"/><rect x="854" y="1425" width="9" height="9"/><rect x="853" y="1425" width="9" height="9"/><rect x="851" y="1425" width="9" height="9"/><rect x="850" y="1425" width="9" height="9"/><rect x="848" y="1425" width="9" height="9"/><rect x="847" y="1425" width="9" height="9"/><rect x="846" y="1425" width="9" height="9"/>
<path fill="#fff" stroke="#cc0404" stroke-width="2" d="M271 1435h9v9h-9zM272 1435h9v9h-9zM272 1435h9v9h-9zM273 1435h9v9h-9zM274 1435h9v9h-9zM275 1435h9v9h-9zM276 1435h9v9h-9zM277 1435h9v9h-9zM278 1435h9v9h-9zM279 1435h9v9h-9zM280 1435h9v9h-9zM281 1435h9v9h-9zM282 1435h9v9h-9zM283 1435h9v9h-9zM284 1435h9v9h-9zM285 1435h9v9h-9zM285 1435h9v9h-9zM286 1435h9v9h-9zM287 1435h9v9h-9zM288 1435h9v9h-9zM289 1435h9v9h-9zM290 1435h9v9h-9zM291 1435h9v9h-9zM292 1435h9v9h-9zM293 1435h9v9h-9zM294 1435h9v9h-9zM295 1435h9v9h-9zM296 1435h9v9h-9zM297 1435h9v9h-9zM298 1435h9v9h-9zM299 1435h9v9h-9zM300 1435h9v9h-9zM300 1435h9v9h-9zM301 1434h9v9h-9zM302 1434h9v9h-9zM303 1434h9v9h-9zM304 1434h9v9h-9zM305 1434h9v9h-9zM306 1434h9v9h-9zM307 1434h9v9h-9zM308 1434h9v9h-9zM309 1434h9v9h-9zM310 1434h9v9h-9zM311 1434h9v9h-9zM312 1434h9v9h-9zM313 1434h9v9h-9zM314 1434h9v9h-9zM315 1434h9v9h-9zM316 1434h9v9h-9zM316 1434h9v9h-9zM317 1434h9v9h-9zM318 1434h9v9h-9zM319 1434h9v9h-9zM320 1434h9v9h-9zM321 1434h9v9h-9zM322 1434h9v9h-9zM323 1434h9v9h-9zM324 1434h9v9h-9zM325 1434h9v9h-9zM326 1434h9v9h-9zM327 1434h9v9h-9zM328 1434h9v9h-9zM329 1434h9v9h-9zM330 1434h9v9h-9zM331 1434h9v9h-9zM332 1434h9v9h-9zM333 1434h9v9h-9zM334 1434h9v9h-9zM335 1434h9v9h-9zM336 1434h9v9h-9zM337 1433h9v9h-9zM337 1433h9v9h-9zM338 1433h9v9h-9zM339 1433h9v9h-9zM340 1433h9v9h-9zM341 1433h9v9h-9zM342 1433h9v9h-9zM343 1433h9v9h-9zM344 1433h9v9h-9zM345 1433h9v9h-9zM346 1433h9v9h-9zM347 1433h9v9h-9zM348 1433h9v9h-9zM349 1433h9v9h-9zM350 1433h9v9h-9zM351 1433h9v9h-9zM352 1433h9v9h-9zM353 1433h9v9h-9zM354 1433h9v9h-9zM355 1433h9v9h-9zM356 1433h9v9h-9zM357 1433h9v9h-9zM358 1433h9v9h-9zM358 1433h9v9h-9zM359 1433h9v9h-9zM360 1433h9v9h-9zM361 1433h9v9h-9zM362 1433h9v9h-9zM363 1433h9v9h-9zM365 1433h9v9h-9zM366 1433h9v9h-9zM367 1433h9v9h-9zM368 1433h9v9h-9zM368 1433h9v9h-9zM369 1433h9v9h-9zM370 1433h9v9h-9zM371 1433h9v9h-9zM372 1433h9v9h-9zM373 1433h9v9h-9zM374 1433h9v9h-9zM375 1433h9v9h-9zM376 1433h9v9h-9zM377 1433h9v9h-9zM378 1433h9v9h-9zM379 1433h9v9h-9zM380 1433h9v9h-9zM381 1432h9v9h-9zM382 1432h9v9h-9zM383 1432h9v9h-9zM384 1432h9v9h-9zM385 1432h9v9h-9zM386 1432h9v9h-9zM387 1432h9v9h-9zM388 1432h9v9h-9zM389 1432h9v9h-9zM390 1432h9v9h-9zM391 1432h9v9h-9zM392 1432h9v9h-9zM393 1432h9v9h-9zM394 1432h9v9h-9zM395 1432h9v9h-9zM396 1432h9v9h-9zM397 1432h9v9h-9zM398 1432h9v9h-9zM399 1432h9v9h-9zM400 1432h9v9h-9zM401 1432h9v9h-9zM402 1432h9v9h-9zM403 1432h9v9h-9zM404 1432h9v9h-9zM405 1432h9v9h-9zM406 1432h9v9h-9zM407 1432h9v9h-9zM408 1432h9v9h-9zM409 1432h9v9h-9zM410 1432h9v9h-9zM411 1432h9v9h-9zM412 1432h9v9h-9zM413 1432h9v9h-9zM414 1432h9v9h-9zM415 1432h9v9h-9zM416 1432h9v9h-9zM418 1432h9v9h-9zM419 1432h9v9h-9zM419 1432h9v9h-9zM420 1432h9v9h-9zM421 1432h9v9h-9zM422 1432h9v9h-9zM423 1432h9v9h-9zM424 1432h9v9h-9zM425 1432h9v9h-9zM426 1432h9v9h-9zM427 1432h9v9h-9zM428 1432h9v9h-9zM429 1432h9v9h-9zM430 1432h9v9h-9zM431 1432h9v9h-9zM432 1432h9v9h-9zM433 1432h9v9h-9zM434 1432h9v9h-9zM435 1432h9v9h-9zM436 1432h9v9h-9zM437 1432h9v9h-9zM438 1432h9v9h-9zM439 1431h9v9h-9zM440 1431h9v9h-9zM441 1431h9v9h-9zM442 1431h9v9h-9zM443 1431h9v9h-9zM444 1431h9v9h-9zM445 1431h9v9h-9zM446 1431h9v9h-9zM447 1431h9v9h-9zM449 1431h9v9h-9zM450 1431h9v9h-9zM451 1431h9v9h-9zM452 1431h9v9h-9zM453 1431h9v9h-9zM454 1431h9v9h-9zM455 1431h9v9h-9zM457 1431h9v9h-9zM458 1431h9v9h-9zM459 1431h9v9h-9zM460 1431h9v9h-9zM461 1431h9v9h-9zM462 1431h9v9h-9zM463 1431h9v9h-9zM464 1431h9v9h-9zM465 1431h9v9h-9zM466 1431h9v9h-9zM467 1431h9v9h-9zM468 1431h9v9h-9zM469 1431h9v9h-9zM470 1431h9v9h-9zM471 1431h9v9h-9zM471 1431h9v9h-9zM472 1431h9v9h-9zM473 1431h9v9h-9zM474 1431h9v9h-9zM475 1431h9v9h-9zM476 1431h9v9h-9zM477 1431h9v9h-9zM478 1431h9v9h-9zM479 1431h9v9h-9zM480 1431h9v9h-9zM481 1431h9v9h-9zM482 1431h9v9h-9zM483 1431h9v9h-9zM484 1431h9v9h-9zM485 1431h9v9h-9zM487 1430h9v9h-9zM488 1430h9v9h-9zM489 1430h9v9h-9zM490 1430h9v9h-9zM491 1430h9v9h-9zM492 1430h9v9h-9zM493 1430h9v9h-9zM494 1430h9v9h-9zM495 1430h9v9h-9zM496 1430h9v9h-9zM497 1430h9v9h-9zM498 1430h9v9h-9zM500 1430h9v9h-9zM501 1430h9v9h-9zM502 1430h9v9h-9zM503 1430h9v9h-9zM504 1430h9v9h-9zM505 1430h9v9h-9zM506 1430h9v9h-9zM508 1430h9v9h-9zM509 1430h9v9h-9zM510 1430h9v9h-9zM511 1430h9v9h-9zM512 1430h9v9h-9zM514 1430h9v9h-9zM515 1430h9v9h-9zM516 1430h9v9h-9zM517 1430h9v9h-9zM518 1430h9v9h-9zM520 1430h9v9h-9zM521 1430h9v9h-9zM522 1430h9v9h-9zM524 1430h9v9h-9zM525 1430h9v9h-9zM526 1430h9v9h-9zM527 1430h9v9h-9zM529 1430h9v9h-9zM530 1430h9v9h-9zM531 1429h9v9h-9zM533 1429h9v9h-9zM534 1429h9v9h-9zM535 1429h9v9h-9zM536 1429h9v9h-9zM537 1429h9v9h-9zM538 1429h9v9h-9zM539 1429h9v9h-9zM540 1429h9v9h-9zM540 1429h9v9h-9zM541 1429h9v9h-9zM542 1429h9v9h-9zM543 1429h9v9h-9zM544 1429h9v9h-9zM545 1429h9v9h-9zM546 1429h9v9h-9zM547 1429h9v9h-9zM548 1429h9v9h-9zM549 1429h9v9h-9zM550 1429h9v9h-9zM551 1429h9v9h-9zM552 1429h9v9h-9zM553 1429h9v9h-9zM554 1429h9v9h-9zM555 1429h9v9h-9zM556 1429h9v9h-9zM557 1429h9v9h-9zM558 1429h9v9h-9zM559 1429h9v9h-9zM560 1429h9v9h-9zM561 1429h9v9h-9zM562 1429h9v9h-9zM563 1429h9v9h-9zM564 1429h9v9h-9zM565 1429h9v9h-9zM566 1429h9v9h-9zM567 1429h9v9h-9zM568 1429h9v9h-9zM569 1429h9v9h-9zM570 1429h9v9h-9zM571 1429h9v9h-9zM573 1429h9v9h-9zM574 1429h9v9h-9zM575 1429h9v9h-9zM576 1429h9v9h-9zM577 1429h9v9h-9zM578 1429h9v9h-9zM579 1429h9v9h-9zM580 1429h9v9h-9zM581 1429h9v9h-9zM583 1429h9v9h-9zM584 1429h9v9h-9zM585 1429h9v9h-9zM586 1429h9v9h-9zM587 1429h9v9h-9zM588 1429h9v9h-9zM589 1429h9v9h-9zM591 1429h9v9h-9zM592 1429h9v9h-9zM593 1429h9v9h-9zM594 1429h9v9h-9zM595 1429h9v9h-9zM597 1429h9v9h-9zM598 1429h9v9h-9zM599 1429h9v9h-9zM600 1429h9v9h-9zM601 1429h9v9h-9zM603 1429h9v9h-9zM604 1429h9v9h-9zM605 1429h9v9h-9zM606 1429h9v9h-9zM608 1429h9v9h-9zM609 1429h9v9h-9zM610 1429h9v9h-9zM611 1429h9v9h-9zM613 1429h9v9h-9zM614 1429h9v9h-9zM615 1429h9v9h-9zM617 1429h9v9h-9zM618 1429h9v9h-9zM619 1429h9v9h-9zM621 1429h9v9h-9zM622 1429h9v9h-9zM623 1429h9v9h-9zM625 1429h9v9h-9zM626 1429h9v9h-9zM627 1429h9v9h-9zM629 1429h9v9h-9zM630 1429h9v9h-9zM632 1429h9v9h-9zM633 1429h9v9h-9zM634 1429h9v9h-9zM636 1429h9v9h-9zM637 1429h9v9h-9zM639 1429h9v9h-9zM640 1429h9v9h-9zM642 1429h9v9h-9zM643 1429h9v9h-9zM644 1429h9v9h-9zM646 1429h9v9h-9zM647 1429h9v9h-9zM649 1429h9v9h-9zM650 1429h9v9h-9zM652 1429h9v9h-9zM653 1429h9v9h-9zM655 1429h9v9h-9zM656 1429h9v9h-9zM658 1429h9v9h-9zM660 1429h9v9h-9zM661 1429h9v9h-9zM663 1429h9v9h-9zM664 1429h9v9h-9zM666 1429h9v9h-9zM667 1429h9v9h-9zM669 1429h9v9h-9zM671 1429h9v9h-9zM672 1429h9v9h-9zM674 1429h9v9h-9zM676 1429h9v9h-9zM677 1429h9v9h-9zM679 1429h9v9h-9zM681 1429h9v9h-9zM682 1429h9v9h-9zM684 1429h9v9h-9zM686 1429h9v9h-9zM687 1429h9v9h-9zM689 1429h9v9h-9zM691 1429h9v9h-9zM693 1429h9v9h-9zM695 1429h9v9h-9zM696 1429h9v9h-9zM698 1429h9v9h-9zM700 1429h9v9h-9zM701 1429h9v9h-9zM702 1429h9v9h-9zM703 1429h9v9h-9zM704 1429h9v9h-9zM704 1429h9v9h-9zM705 1429h9v9h-9zM706 1429h9v9h-9zM707 1429h9v9h-9zM708 1429h9v9h-9zM709 1429h9v9h-9zM710 1428h9v9h-9zM711 1428h9v9h-9zM712 1428h9v9h-9zM713 1428h9v9h-9zM714 1428h9v9h-9zM715 1428h9v9h-9zM716 1428h9v9h-9zM717 1428h9v9h-9zM718 1428h9v9h-9zM719 1428h9v9h-9zM720 1428h9v9h-9zM720 1428h9v9h-9zM721 1428h9v9h-9zM722 1428h9v9h-9zM723 1428h9v9h-9zM724 1428h9v9h-9zM725 1428h9v9h-9zM726 1428h9v9h-9zM727 1428h9v9h-9zM728 1428h9v9h-9zM729 1428h9v9h-9zM730 1428h9v9h-9zM731 1427h9v9h-9zM732 1427h9v9h-9zM733 1427h9v9h-9zM734 1427h9v9h-9zM735 1427h9v9h-9zM736 1427h9v9h-9zM737 1427h9v9h-9zM739 1427h9v9h-9zM740 1427h9v9h-9zM741 1427h9v9h-9zM742 1427h9v9h-9zM743 1427h9v9h-9zM744 1427h9v9h-9zM745 1427h9v9h-9zM746 1427h9v9h-9zM747 1427h9v9h-9zM748 1427h9v9h-9zM749 1427h9v9h-9zM750 1427h9v9h-9zM751 1427h9v9h-9zM752 1427h9v9h-9zM753 1427h9v9h-9zM754 1427h9v9h-9zM755 1427h9v9h-9zM757 1427h9v9h-9zM758 1427h9v9h-9zM759 1427h9v9h-9zM760 1427h9v9h-9zM761 1427h9v9h-9zM762 1427h9v9h-9zM763 1427h9v9h-9zM764 1427h9v9h-9zM765 1427h9v9h-9zM767 1427h9v9h-9zM768 1427h9v9h-9zM769 1427h9v9h-9zM770 1427h9v9h-9zM771 1427h9v9h-9zM772 1427h9v9h-9zM773 1427h9v9h-9zM775 1427h9v9h-9zM776 1427h9v9h-9zM777 1427h9v9h-9zM778 1427h9v9h-9zM779 1427h9v9h-9zM780 1427h9v9h-9zM782 1427h9v9h-9zM783 1427h9v9h-9zM784 1427h9v9h-9zM785 1427h9v9h-9zM786 1427h9v9h-9zM788 1427h9v9h-9zM789 1427h9v9h-9zM790 1427h9v9h-9zM791 1427h9v9h-9zM793 1427h9v9h-9zM794 1427h9v9h-9zM795 1427h9v9h-9zM796 1427h9v9h-9zM797 1427h9v9h-9zM799 1427h9v9h-9zM800 1427h9v9h-9zM801 1426h9v9h-9zM802 1426h9v9h-9zM804 1426h9v9h-9zM805 1426h9v9h-9zM806 1426h9v9h-9zM808 1426h9v9h-9zM809 1426h9v9h-9zM810 1426h9v9h-9zM811 1426h9v9h-9zM813 1426h9v9h-9zM814 1426h9v9h-9zM815 1426h9v9h-9zM817 1426h9v9h-9zM818 1426h9v9h-9zM819 1426h9v9h-9zM821 1426h9v9h-9zM822 1426h9v9h-9zM823 1426h9v9h-9zM825 1426h9v9h-9zM826 1426h9v9h-9zM827 1426h9v9h-9zM829 1426h9v9h-9zM830 1426h9v9h-9zM831 1426h9v9h-9zM833 1426h9v9h-9zM834 1426h9v9h-9zM836 1426h9v9h-9zM837 1426h9v9h-9zM838 1426h9v9h-9zM840 1425h9v9h-9zM841 1425h9v9h-9zM843 1425h9v9h-9zM844 1425h9v9h-9z"/>
<rect x="271" y="1435" width="9" height="9"/>
</g>
<clipPath id="c4"><path d="M141 1441.5H1302V1787H141z"/></clipPath>
<g clip-path="url(#c4)" class="g4">
<rect x="1295" y="1484" width="9" height="9"/><rect x="1291" y="1482" width="9" height="9"/><rect x="1287" y="1487" width="9" height="9"/><rect x="1283" y="1493" width="9" height="9"/><rect x="1280" y="1500" width="9" height="9"/><rect x="1276" y="1508" width="9" height="9"/><rect x="1272" y="1514" width="9" height="9"/><rect x="1268" y="1520" width="9" height="9"/><rect x="1265" y="1526" width="9" height="9"/><rect x="1261" y="1528" width="9" height="9"/><rect x="1258" y="1530" width="9" height="9"/><rect x="1254" y="1539" width="9" height="9"/><rect x="1251" y="1547" width="9" height="9"/><rect x="1247" y="1551" width="9" height="9"/><rect x="1244" y="1552" width="9" height="9"/><rect x="1240" y="1555" width="9" height="9"/><rect x="1237" y="1555" width="9" height="9"/><rect x="1233" y="1556" width="9" height="9"/><rect x="1230" y="1559" width="9" height="9"/><rect x="1226" y="1565" width="9" height="9"/><rect x="1223" y="1568" width="9" height="9"/><rect x="1220" y="1573" width="9" height="9"/><rect x="1216" y="1578" width="9" height="9"/><rect x="1213" y="1581" width="9" height="9"/><rect x="1210" y="1584" width="9" height="9"/><rect x="1206" y="1586" width="9" height="9"/><rect x="1203" y="1591" width="9" height="9"/><rect x="1200" y="1597" width="9" height="9"/><rect x="1197" y="1602" width="9" height="9"/><rect x="1194" y="1607" width="9" height="9"/><rect x="1190" y="1615" width="9" height="9"/><rect x="1187" y="1618" width="9" height="9"/><rect x="1184" y="1621" width="9" height="9"/><rect x="1181" y="1625" width="9" height="9"/><rect x="1178" y="1627" width="9" height="9"/><rect x="1175" y="1629" width="9" height="9"/><rect x="1172" y="1633" width="9" height="9"/><rect x="1169" y="1636" width="9" height="9"/><rect x="1166" y="1639" width="9" height="9"/><rect x="1163" y="1641" width="9" height="9"/><rect x="1160" y="1644" width="9" height="9"/><rect x="1157" y="1645" width="9" height="9"/><rect x="1154" y="1646" width="9" height="9"/><rect x="1151" y="1647" width="9" height="9"/><rect x="1148" y="1650" width="9" height="9"/><rect x="1145" y="1654" width="9" height="9"/><rect x="1142" y="1657" width="9" height="9"/><rect x="1139" y="1659" width="9" height="9"/><rect x="1136" y="1663" width="9" height="9"/><rect x="1133" y="1667" width="9" height="9"/><rect x="1131" y="1669" width="9" height="9"/><rect x="1128" y="1670" width="9" height="9"/><rect x="1125" y="1673" width="9" height="9"/><rect x="1122" y="1675" width="9" height="9"/><rect x="1119" y="1677" width="9" height="9"/><rect x="1117" y="1679" width="9" height="9"/><rect x="1114" y="1683" width="9" height="9"/><rect x="1111" y="1684" width="9" height="9"/><rect x="1109" y="1686" width="9" height="9"/><rect x="1106" y="1687" width="9" height="9"/><rect x="1103" y="1688" width="9" height="9"/><rect x="1101" y="1690" width="9" height="9"/><rect x="1098" y="1691" width="9" height="9"/><rect x="1095" y="1694" width="9" height="9"/><rect x="1093" y="1696" width="9" height="9"/><rect x="1090" y="1699" width="9" height="9"/><rect x="1088" y="1700" width="9" height="9"/><rect x="1085" y="1702" width="9" height="9"/><rect x="1082" y="1703" width="9" height="9"/><rect x="1080" y="1704" width="9" height="9"/><rect x="1077" y="1705" width="9" height="9"/><rect x="1075" y="1706" width="9" height="9"/><rect x="1072" y="1708" width="9" height="9"/><rect x="1070" y="1709" width="9" height="9"/><rect x="1067" y="1710" width="9" height="9"/><rect x="1065" y="1712" width="9" height="9"/><rect x="1062" y="1713" width="9" height="9"/><rect x="1060" y="1715" width="9" height="9"/><rect x="1058" y="1716" width="9" height="9"/><rect x="1055" y="1718" width="9" height="9"/><rect x="1053" y="1720" width="9" height="9"/><rect x="1050" y="1722" width="9" height="9"/><rect x="1048" y="1724" width="9" height="9"/><rect x="1046" y="1726" width="9" height="9"/><rect x="1043" y="1727" width="9" height="9"/><rect x="1041" y="1728" width="9" height="9"/><rect x="1039" y="1729" width="9" height="9"/><rect x="1036" y="1729" width="9" height="9"/><rect x="1034" y="1730" width="9" height="9"/><rect x="1032" y="1731" width="9" height="9"/><rect x="1029" y="1732" width="9" height="9"/><rect x="1027" y="1733" width="9" height="9"/><rect x="1025" y="1734" width="9" height="9"/><rect x="1023" y="1735" width="9" height="9"/><rect x="1020" y="1736" width="9" height="9"/><rect x="1018" y="1737" width="9" height="9"/><rect x="1016" y="1738" width="9" height="9"/><rect x="1014" y="1739" width="9" height="9"/><rect x="1012" y="1740" width="9" height="9"/><rect x="1009" y="1741" width="9" height="9"/><rect x="1007" y="1741" width="9" height="9"/><rect x="1005" y="1742" width="9" height="9"/><rect x="1003" y="1743" width="9" height="9"/><rect x="1001" y="1744" width="9" height="9"/><rect x="999" y="1744" width="9" height="9"/><rect x="997" y="1745" width="9" height="9"/><rect x="995" y="1746" width="9" height="9"/><rect x="992" y="1747" width="9" height="9"/><rect x="990" y="1748" width="9" height="9"/><rect x="988" y="1749" width="9" height="9"/><rect x="986" y="1750" width="9" height="9"/><rect x="984" y="1751" width="9" height="9"/><rect x="982" y="1752" width="9" height="9"/><rect x="980" y="1753" width="9" height="9"/><rect x="978" y="1753" width="9" height="9"/><rect x="976" y="1754" width="9" height="9"/><rect x="974" y="1754" width="9" height="9"/><rect x="972" y="1755" width="9" height="9"/><rect x="970" y="1755" width="9" height="9"/><rect x="968" y="1756" width="9" height="9"/><rect x="966" y="1756" width="9" height="9"/><rect x="964" y="1757" width="9" height="9"/><rect x="962" y="1757" width="9" height="9"/><rect x="960" y="1757" width="9" height="9"/><rect x="958" y="1758" width="9" height="9"/><rect x="956" y="1758" width="9" height="9"/><rect x="955" y="1759" width="9" height="9"/><rect x="953" y="1759" width="9" height="9"/><rect x="951" y="1759" width="9" height="9"/><rect x="949" y="1760" width="9" height="9"/><rect x="947" y="1760" width="9" height="9"/><rect x="945" y="1760" width="9" height="9"/><rect x="943" y="1761" width="9" height="9"/><rect x="941" y="1761" width="9" height="9"/><rect x="940" y="1762" width="9" height="9"/><rect x="938" y="1762" width="9" height="9"/><rect x="936" y="1762" width="9" height="9"/><rect x="934" y="1763" width="9" height="9"/><rect x="932" y="1763" width="9" height="9"/><rect x="930" y="1763" width="9" height="9"/><rect x="929" y="1764" width="9" height="9"/><rect x="927" y="1764" width="9" height="9"/><rect x="925" y="1765" width="9" height="9"/><rect x="923" y="1765" width="9" height="9"/><rect x="922" y="1765" width="9" height="9"/><rect x="920" y="1765" width="9" height="9"/><rect x="918" y="1766" width="9" height="9"/><rect x="916" y="1766" width="9" height="9"/><rect x="915" y="1766" width="9" height="9"/><rect x="913" y="1767" width="9" height="9"/><rect x="911" y="1767" width="9" height="9"/><rect x="910" y="1767" width="9" height="9"/><rect x="908" y="1767" width="9" height="9"/><rect x="906" y="1768" width="9" height="9"/><rect x="904" y="1768" width="9" height="9"/><rect x="903" y="1768" width="9" height="9"/><rect x="901" y="1768" width="9" height="9"/><rect x="899" y="1768" width="9" height="9"/><rect x="898" y="1769" width="9" height="9"/><rect x="896" y="1769" width="9" height="9"/><rect x="894" y="1769" width="9" height="9"/><rect x="893" y="1769" width="9" height="9"/><rect x="891" y="1769" width="9" height="9"/><rect x="890" y="1770" width="9" height="9"/><rect x="888" y="1770" width="9" height="9"/><rect x="886" y="1770" width="9" height="9"/><rect x="885" y="1770" width="9" height="9"/><rect x="883" y="1770" width="9" height="9"/><rect x="882" y="1771" width="9" height="9"/><rect x="880" y="1771" width="9" height="9"/><rect x="878" y="1771" width="9" height="9"/><rect x="877" y="1771" width="9" height="9"/><rect x="875" y="1771" width="9" height="9"/><rect x="874" y="1772" width="9" height="9"/><rect x="872" y="1772" width="9" height="9"/><rect x="871" y="1772" width="9" height="9"/><rect x="869" y="1772" width="9" height="9"/><rect x="868" y="1772" width="9" height="9"/><rect x="866" y="1773" width="9" height="9"/><rect x="865" y="1773" width="9" height="9"/><rect x="863" y="1773" width="9" height="9"/><rect x="862" y="1773" width="9" height="9"/><rect x="860" y="1773" width="9" height="9"/><rect x="859" y="1773" width="9" height="9"/><rect x="857" y="1773" width="9" height="9"/><rect x="856" y="1773" width="9" height="9"/><rect x="854" y="1773" width="9" height="9"/><rect x="853" y="1774" width="9" height="9"/><rect x="851" y="1774" width="9" height="9"/><rect x="850" y="1774" width="9" height="9"/><rect x="848" y="1774" width="9" height="9"/><rect x="847" y="1774" width="9" height="9"/><rect x="846" y="1774" width="9" height="9"/>
<path fill="#fff" stroke="#000000" stroke-width="2" d="M271 1779h9v9h-9zM272 1780h9v9h-9zM272 1780h9v9h-9zM273 1780h9v9h-9zM274 1780h9v9h-9zM275 1780h9v9h-9zM276 1780h9v9h-9zM277 1780h9v9h-9zM278 1780h9v9h-9zM279 1780h9v9h-9zM280 1780h9v9h-9zM281 1780h9v9h-9zM282 1780h9v9h-9zM283 1780h9v9h-9zM284 1780h9v9h-9zM285 1780h9v9h-9zM285 1780h9v9h-9zM286 1780h9v9h-9zM287 1780h9v9h-9zM288 1780h9v9h-9zM289 1780h9v9h-9zM290 1780h9v9h-9zM291 1780h9v9h-9zM292 1780h9v9h-9zM293 1780h9v9h-9zM294 1780h9v9h-9zM295 1780h9v9h-9zM296 1780h9v9h-9zM297 1780h9v9h-9zM298 1780h9v9h-9zM299 1780h9v9h-9zM300 1780h9v9h-9zM300 1780h9v9h-9zM301 1780h9v9h-9zM302 1780h9v9h-9zM303 1780h9v9h-9zM304 1780h9v9h-9zM305 1780h9v9h-9zM306 1780h9v9h-9zM307 1780h9v9h-9zM308 1780h9v9h-9zM309 1780h9v9h-9zM310 1780h9v9h-9zM311 1780h9v9h-9zM312 1780h9v9h-9zM313 1780h9v9h-9zM314 1780h9v9h-9zM315 1780h9v9h-9zM316 1780h9v9h-9zM316 1780h9v9h-9zM317 1780h9v9h-9zM318 1780h9v9h-9zM319 1780h9v9h-9zM320 1780h9v9h-9zM321 1780h9v9h-9zM322 1780h9v9h-9zM323 1780h9v9h-9zM324 1780h9v9h-9zM325 1780h9v9h-9zM326 1780h9v9h-9zM327 1780h9v9h-9zM328 1780h9v9h-9zM329 1780h9v9h-9zM330 1780h9v9h-9zM331 1780h9v9h-9zM332 1780h9v9h-9zM333 1780h9v9h-9zM334 1780h9v9h-9zM335 1780h9v9h-9zM336 1780h9v9h-9zM337 1780h9v9h-9zM337 1780h9v9h-9zM338 1780h9v9h-9zM339 1780h9v9h-9zM340 1780h9v9h-9zM341 1780h9v9h-9zM342 1780h9v9h-9zM343 1780h9v9h-9zM344 1780h9v9h-9zM345 1780h9v9h-9zM346 1780h9v9h-9zM347 1780h9v9h-9zM348 1780h9v9h-9zM349 1780h9v9h-9zM350 1780h9v9h-9zM351 1780h9v9h-9zM352 1780h9v9h-9zM353 1780h9v9h-9zM354 1780h9v9h-9zM355 1780h9v9h-9zM356 1780h9v9h-9zM357 1780h9v9h-9zM358 1780h9v9h-9zM358 1780h9v9h-9zM359 1780h9v9h-9zM360 1780h9v9h-9zM361 1780h9v9h-9zM362 1780h9v9h-9zM363 1780h9v9h-9zM365 1780h9v9h-9zM366 1780h9v9h-9zM367 1780h9v9h-9zM368 1780h9v9h-9zM368 1780h9v9h-9zM369 1780h9v9h-9zM370 1780h9v9h-9zM371 1780h9v9h-9zM372 1780h9v9h-9zM373 1780h9v9h-9zM374 1780h9v9h-9zM375 1780h9v9h-9zM376 1780h9v9h-9zM377 1780h9v9h-9zM378 1780h9v9h-9zM379 1780h9v9h-9zM380 1780h9v9h-9zM381 1780h9v9h-9zM382 1780h9v9h-9zM383 1780h9v9h-9zM384 1780h9v9h-9zM385 1780h9v9h-9zM386 1780h9v9h-9zM387 1780h9v9h-9zM388 1780h9v9h-9zM389 1779h9v9h-9zM390 1779h9v9h-9zM391 1779h9v9h-9zM392 1779h9v9h-9zM393 1779h9v9h-9zM394 1779h9v9h-9zM395 1779h9v9h-9zM396 1779h9v9h-9zM397 1779h9v9h-9zM398 1779h9v9h-9zM399 1779h9v9h-9zM400 1779h9v9h-9zM401 1779h9v9h-9zM402 1779h9v9h-9zM403 1779h9v9h-9zM404 1779h9v9h-9zM405 1779h9v9h-9zM406 1779h9v9h-9zM407 1779h9v9h-9zM408 1779h9v9h-9zM409 1779h9v9h-9zM410 1779h9v9h-9zM411 1779h9v9h-9zM412 1779h9v9h-9zM413 1779h9v9h-9zM414 1779h9v9h-9zM415 1779h9v9h-9zM416 1779h9v9h-9zM418 1779h9v9h-9zM419 1779h9v9h-9zM419 1779h9v9h-9zM420 1779h9v9h-9zM421 1779h9v9h-9zM422 1779h9v9h-9zM423 1779h9v9h-9zM424 1779h9v9h-9zM425 1779h9v9h-9zM426 1779h9v9h-9zM427 1779h9v9h-9zM428 1779h9v9h-9zM429 1779h9v9h-9zM430 1779h9v9h-9zM431 1779h9v9h-9zM432 1779h9v9h-9zM433 1779h9v9h-9zM434 1779h9v9h-9zM435 1779h9v9h-9zM436 1779h9v9h-9zM437 1779h9v9h-9zM438 1779h9v9h-9zM439 1779h9v9h-9zM440 1779h9v9h-9zM441 1778h9v9h-9zM442 1778h9v9h-9zM443 1778h9v9h-9zM444 1778h9v9h-9zM445 1778h9v9h-9zM446 1778h9v9h-9zM447 1778h9v9h-9zM449 1778h9v9h-9zM450 1778h9v9h-9zM451 1778h9v9h-9zM452 1778h9v9h-9zM453 1778h9v9h-9zM454 1778h9v9h-9zM455 1778h9v9h-9zM457 1778h9v9h-9zM458 1778h9v9h-9zM459 1778h9v9h-9zM460 1778h9v9h-9zM461 1778h9v9h-9zM462 1778h9v9h-9zM463 1778h9v9h-9zM464 1778h9v9h-9zM465 1778h9v9h-9zM466 1778h9v9h-9zM467 1778h9v9h-9zM468 1778h9v9h-9zM469 1778h9v9h-9zM470 1778h9v9h-9zM471 1778h9v9h-9zM471 1778h9v9h-9zM472 1778h9v9h-9zM473 1778h9v9h-9zM474 1778h9v9h-9zM475 1778h9v9h-9zM476 1778h9v9h-9zM477 1778h9v9h-9zM478 1778h9v9h-9zM479 1778h9v9h-9zM480 1778h9v9h-9zM481 1778h9v9h-9zM482 1778h9v9h-9zM483 1778h9v9h-9zM484 1778h9v9h-9zM485 1778h9v9h-9zM487 1778h9v9h-9zM488 1778h9v9h-9zM489 1778h9v9h-9zM490 1778h9v9h-9zM491 1778h9v9h-9zM492 1778h9v9h-9zM493 1778h9v9h-9zM494 1778h9v9h-9zM495 1778h9v9h-9zM496 1778h9v9h-9zM497 1778h9v9h-9zM498 1778h9v9h-9zM500 1778h9v9h-9zM501 1778h9v9h-9zM502 1778h9v9h-9zM503 1778h9v9h-9zM504 1778h9v9h-9zM505 1778h9v9h-9zM506 1778h9v9h-9zM508 1778h9v9h-9zM509 1778h9v9h-9zM510 1778h9v9h-9zM511 1778h9v9h-9zM512 1778h9v9h-9zM514 1778h9v9h-9zM515 1778h9v9h-9zM516 1778h9v9h-9zM517 1778h9v9h-9zM518 1778h9v9h-9zM520 1778h9v9h-9zM521 1778h9v9h-9zM522 1778h9v9h-9zM524 1778h9v9h-9zM525 1778h9v9h-9zM526 1778h9v9h-9zM527 1778h9v9h-9zM529 1778h9v9h-9zM530 1778h9v9h-9zM531 1778h9v9h-9zM533 1778h9v9h-9zM534 1778h9v9h-9zM535 1778h9v9h-9zM536 1778h9v9h-9zM537 1778h9v9h-9zM538 1778h9v9h-9zM539 1778h9v9h-9zM540 1778h9v9h-9zM540 1778h9v9h-9zM541 1778h9v9h-9zM542 1778h9v9h-9zM543 1778h9v9h-9zM544 1778h9v9h-9zM545 1778h9v9h-9zM546 1778h9v9h-9zM547 1778h9v9h-9zM548 1778h9v9h-9zM549 1778h9v9h-9zM550 1778h9v9h-9zM551 1778h9v9h-9zM552 1778h9v9h-9zM553 1778h9v9h-9zM554 1778h9v9h-9zM555 1778h9v9h-9zM556 1778h9v9h-9zM557 1778h9v9h-9zM558 1778h9v9h-9zM559 1778h9v9h-9zM560 1778h9v9h-9zM561 1778h9v9h-9zM562 1777h9v9h-9zM563 1777h9v9h-9zM564 1777h9v9h-9zM565 1777h9v9h-9zM566 1777h9v9h-9zM567 1777h9v9h-9zM568 1777h9v9h-9zM569 1777h9v9h-9zM570 1777h9v9h-9zM571 1777h9v9h-9zM573 1777h9v9h-9zM574 1777h9v9h-9zM575 1777h9v9h-9zM576 1777h9v9h-9zM577 1777h9v9h-9zM578 1777h9v9h-9zM579 1777h9v9h-9zM580 1777h9v9h-9zM581 1777h9v9h-9zM583 1777h9v9h-9zM584 1777h9v9h-9zM585 1777h9v9h-9zM586 1777h9v9h-9zM587 1777h9v9h-9zM588 1777h9v9h-9zM589 1777h9v9h-9zM591 1777h9v9h-9zM592 1777h9v9h-9zM593 1777h9v9h-9zM594 1777h9v9h-9zM595 1777h9v9h-9zM597 1777h9v9h-9zM598 1777h9v9h-9zM599 1777h9v9h-9zM600 1777h9v9h-9zM601 1777h9v9h-9zM603 1777h9v9h-9zM604 1777h9v9h-9zM605 1777h9v9h-9zM606 1777h9v9h-9zM608 1777h9v9h-9zM609 1777h9v9h-9zM610 1777h9v9h-9zM611 1777h9v9h-9zM613 1777h9v9h-9zM614 1777h9v9h-9zM615 1777h9v9h-9zM617 1777h9v9h-9zM618 1777h9v9h-9zM619 1777h9v9h-9zM621 1777h9v9h-9zM622 1777h9v9h-9zM623 1777h9v9h-9zM625 1777h9v9h-9zM626 1777h9v9h-9zM627 1777h9v9h-9zM629 1777h9v9h-9zM630 1777h9v9h-9zM632 1777h9v9h-9zM633 1777h9v9h-9zM634 1777h9v9h-9zM636 1777h9v9h-9zM637 1777h9v9h-9zM639 1777h9v9h-9zM640 1777h9v9h-9zM642 1777h9v9h-9zM643 1777h9v9h-9zM644 1777h9v9h-9zM646 1777h9v9h-9zM647 1777h9v9h-9zM649 1777h9v9h-9zM650 1777h9v9h-9zM652 1777h9v9h-9zM653 1777h9v9h-9zM655 1777h9v9h-9zM656 1777h9v9h-9zM658 1777h9v9h-9zM660 1777h9v9h-9zM661 1777h9v9h-9zM663 1777h9v9h-9zM664 1777h9v9h-9zM666 1777h9v9h-9zM667 1777h9v9h-9zM669 1777h9v9h-9zM671 1777h9v9h-9zM672 1777h9v9h-9zM674 1777h9v9h-9zM676 1777h9v9h-9zM677 1777h9v9h-9zM679 1777h9v9h-9zM681 1777h9v9h-9zM682 1777h9v9h-9zM684 1777h9v9h-9zM686 1777h9v9h-9zM687 1777h9v9h-9zM689 1777h9v9h-9zM691 1777h9v9h-9zM693 1777h9v9h-9zM695 1777h9v9h-9zM696 1777h9v9h-9zM698 1777h9v9h-9zM700 1777h9v9h-9zM701 1777h9v9h-9zM702 1777h9v9h-9zM703 1777h9v9h-9zM704 1777h9v9h-9zM704 1777h9v9h-9zM705 1777h9v9h-9zM706 1777h9v9h-9zM707 1777h9v9h-9zM708 1777h9v9h-9zM709 1777h9v9h-9zM710 1777h9v9h-9zM711 1777h9v9h-9zM712 1777h9v9h-9zM713 1777h9v9h-9zM714 1777h9v9h-9zM715 1777h9v9h-9zM716 1777h9v9h-9zM717 1777h9v9h-9zM718 1777h9v9h-9zM719 1777h9v9h-9zM720 1777h9v9h-9zM720 1777h9v9h-9zM721 1777h9v9h-9zM722 1777h9v9h-9zM723 1777h9v9h-9zM724 1777h9v9h-9zM725 1777h9v9h-9zM726 1777h9v9h-9zM727 1777h9v9h-9zM728 1777h9v9h-9zM729 1777h9v9h-9zM730 1777h9v9h-9zM731 1777h9v9h-9zM732 1777h9v9h-9zM733 1777h9v9h-9zM734 1777h9v9h-9zM735 1777h9v9h-9zM736 1777h9v9h-9zM737 1777h9v9h-9zM739 1777h9v9h-9zM740 1777h9v9h-9zM741 1777h9v9h-9zM742 1777h9v9h-9zM743 1777h9v9h-9zM744 1777h9v9h-9zM745 1777h9v9h-9zM746 1777h9v9h-9zM747 1777h9v9h-9zM748 1777h9v9h-9zM749 1777h9v9h-9zM750 1777h9v9h-9zM751 1777h9v9h-9zM752 1777h9v9h-9zM753 1777h9v9h-9zM754 1777h9v9h-9zM755 1777h9v9h-9zM757 1777h9v9h-9zM758 1777h9v9h-9zM759 1777h9v9h-9zM760 1777h9v9h-9zM761 1776h9v9h-9zM762 1776h9v9h-9zM763 1776h9v9h-9zM764 1776h9v9h-9zM765 1776h9v9h-9zM767 1776h9v9h-9zM768 1776h9v9h-9zM769 1776h9v9h-9zM770 1776h9v9h-9zM771 1776h9v9h-9zM772 1776h9v9h-9zM773 1776h9v9h-9zM775 1776h9v9h-9zM776 1776h9v9h-9zM777 1776h9v9h-9zM778 1776h9v9h-9zM779 1776h9v9h-9zM780 1776h9v9h-9zM782 1776h9v9h-9zM783 1776h9v9h-9zM784 1776h9v9h-9zM785 1776h9v9h-9zM786 1776h9v9h-9zM788 1776h9v9h-9zM789 1776h9v9h-9zM790 1776h9v9h-9zM791 1776h9v9h-9zM793 1776h9v9h-9zM794 1776h9v9h-9zM795 1776h9v9h-9zM796 1776h9v9h-9zM797 1776h9v9h-9zM799 1776h9v9h-9zM800 1776h9v9h-9zM801 1775h9v9h-9zM802 1775h9v9h-9zM804 1775h9v9h-9zM805 1775h9v9h-9zM806 1775h9v9h-9zM808 1775h9v9h-9zM809 1775h9v9h-9zM810 1775h9v9h-9zM811 1775h9v9h-9zM813 1775h9v9h-9zM814 1775h9v9h-9zM815 1775h9v9h-9zM817 1775h9v9h-9zM818 1775h9v9h-9zM819 1775h9v9h-9zM821 1775h9v9h-9zM822 1775h9v9h-9zM823 1775h9v9h-9zM825 1775h9v9h-9zM826 1775h9v9h-9zM827 1775h9v9h-9zM829 1775h9v9h-9zM830 1775h9v9h-9zM831 1775h9v9h-9zM833 1775h9v9h-9zM834 1774h9v9h-9zM836 1774h9v9h-9zM837 1774h9v9h-9zM838 1774h9v9h-9zM840 1774h9v9h-9zM841 1774h9v9h-9zM843 1774h9v9h-9zM844 1774h9v9h-9z"/>
<rect x="271" y="1779" width="9" height="9"/>
</g>
<line x1="1286.7" y1="96.9" x2="1112.2" y2="410.5" stroke="#ff0000" stroke-width="6.7" stroke-dasharray="14.4 10.8"/>
<line x1="1294.9" y1="461.4" x2="1090.7" y2="758.9" stroke="#ff0000" stroke-width="6.7" stroke-dasharray="14.4 10.8"/>
<line x1="1293.0" y1="826.0" x2="1078" y2="1103.4" stroke="#ff0000" stroke-width="6.7" stroke-dasharray="14.4 10.8"/>
<line x1="1287" y1="1149.5" x2="1052" y2="1447.8" stroke="#ff0000" stroke-width="6.7" stroke-dasharray="14.4 10.8"/>
<line x1="1298.7" y1="1490.7" x2="1048.3" y2="1788.9" stroke="#ff0000" stroke-width="6.7" stroke-dasharray="14.4 10.8"/>
<path d="M210 95h9v9h-9z" fill="#fff" stroke="#008e00" stroke-width="2"/>
<path d="M210 441h9v9h-9z" fill="#fff" stroke="#d42aff" stroke-width="2"/>
<path d="M210 787h9v9h-9z" fill="#fff" stroke="#0014c0" stroke-width="2"/>
<path d="M210 1133h9v9h-9z" fill="#fff" stroke="#cc0404" stroke-width="2"/>
<path d="M210 1479h9v9h-9z" fill="#fff" stroke="#000000" stroke-width="2"/>
<g style="filter:grayscale(1)">
<text x="296.8" y="119.6" font-family="Liberation Serif" font-weight="bold" font-size="59">T18</text>
<text x="296.8" y="465.9" font-family="Liberation Serif" font-weight="bold" font-size="59">T15</text>
<text x="296.8" y="811.8" font-family="Liberation Serif" font-weight="bold" font-size="59">T12</text>
<text x="296.8" y="1157.8" font-family="Liberation Serif" font-weight="bold" font-size="59">T9</text>
<text x="296.8" y="1503.8" font-family="Liberation Serif" font-weight="bold" font-size="59">T6</text>
<text y="314.8" font-family="Liberation Serif" font-size="60"><tspan x="708.5" font-style="italic">E</tspan><tspan font-size="40" dy="16">g</tspan><tspan dy="-16"> = 3.450 eV</tspan></text>
<text y="670.9" font-family="Liberation Serif" font-size="60"><tspan x="708.5" font-style="italic">E</tspan><tspan font-size="40" dy="16">g</tspan><tspan dy="-16"> = 3.379 eV</tspan></text>
<text y="1017.7" font-family="Liberation Serif" font-size="60"><tspan x="708.5" font-style="italic">E</tspan><tspan font-size="40" dy="16">g</tspan><tspan dy="-16"> = 3.329 eV</tspan></text>
<text y="1360.9" font-family="Liberation Serif" font-size="60"><tspan x="708.5" font-style="italic">E</tspan><tspan font-size="40" dy="16">g</tspan><tspan dy="-16"> = 3.234 eV</tspan></text>
<text y="1707.5" font-family="Liberation Serif" font-size="60"><tspan x="708.5" font-style="italic">E</tspan><tspan font-size="40" dy="16">g</tspan><tspan dy="-16"> = 3.205 eV</tspan></text>
<text transform="translate(140.5 1857.3) scale(1 1.03)" text-anchor="middle" font-family="Liberation Serif" font-size="60">0.0</text>
<text transform="translate(282.0 1857.3) scale(1 1.03)" text-anchor="middle" font-family="Liberation Serif" font-size="60">0.5</text>
<text transform="translate(423.4 1857.3) scale(1 1.03)" text-anchor="middle" font-family="Liberation Serif" font-size="60">1.0</text>
<text transform="translate(564.9 1857.3) scale(1 1.03)" text-anchor="middle" font-family="Liberation Serif" font-size="60">1.5</text>
<text transform="translate(706.4 1857.3) scale(1 1.03)" text-anchor="middle" font-family="Liberation Serif" font-size="60">2.0</text>
<text transform="translate(847.9 1857.3) scale(1 1.03)" text-anchor="middle" font-family="Liberation Serif" font-size="60">2.5</text>
<text transform="translate(989.3 1857.3) scale(1 1.03)" text-anchor="middle" font-family="Liberation Serif" font-size="60">3.0</text>
<text transform="translate(1130.8 1857.3) scale(1 1.03)" text-anchor="middle" font-family="Liberation Serif" font-size="60">3.5</text>
<text transform="translate(1272.3 1857.3) scale(1 1.03)" text-anchor="middle" font-family="Liberation Serif" font-size="60">4.0</text>
<text transform="translate(613 1966) scale(0.983 1)" font-family="Liberation Serif" font-size="72"><tspan font-style="italic">hv</tspan> (eV)</text>
<text transform="translate(75 1088.8) rotate(-90) scale(0.978 1)" font-family="Liberation Serif" font-size="72">(<tspan font-style="italic">&#945;hv</tspan>)<tspan font-size="47" dy="-28">2</tspan><tspan dy="28"> (eV/m)</tspan><tspan font-size="47" dy="-28">2</tspan></text>
</g>
</svg>
</body></html>
